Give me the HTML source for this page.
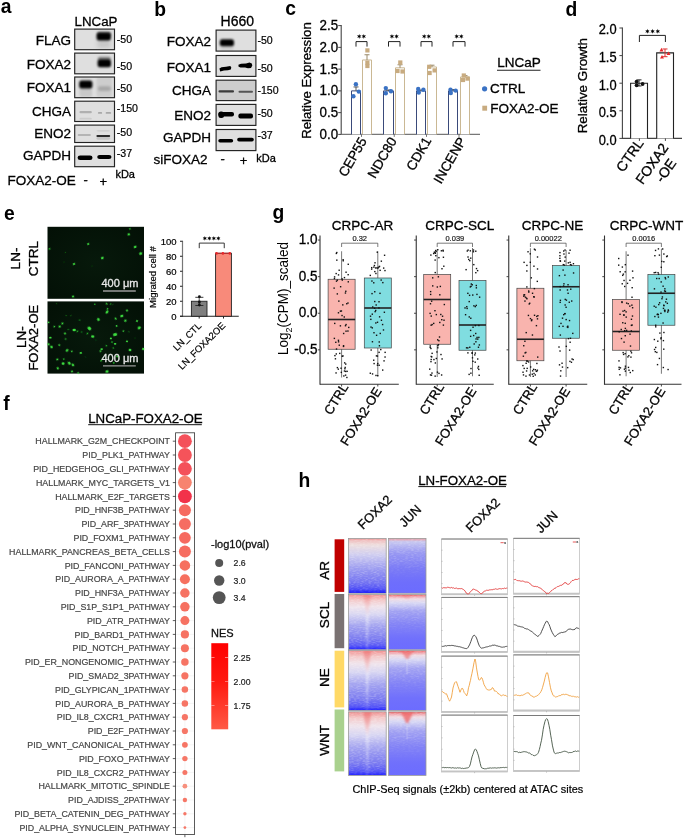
<!DOCTYPE html>
<html><head><meta charset="utf-8"><style>
html,body{margin:0;padding:0;background:#fff;}
body{width:685px;height:840px;overflow:hidden;}
svg{display:block;font-family:"Liberation Sans", sans-serif;will-change:transform;}
</style></head><body>
<svg width="685" height="840" viewBox="0 0 685 840">
<defs>
<filter id="bl1" x="-50%" y="-50%" width="200%" height="200%"><feGaussianBlur stdDeviation="1.1"/></filter>
<filter id="bl2" x="-50%" y="-50%" width="200%" height="200%"><feGaussianBlur stdDeviation="2"/></filter>
<filter id="bl05" x="-50%" y="-50%" width="200%" height="200%"><feGaussianBlur stdDeviation="0.6"/></filter>
<filter id="bl3" x="-50%" y="-50%" width="200%" height="200%"><feGaussianBlur stdDeviation="3"/></filter>
<filter id="grain" x="0" y="0" width="100%" height="100%"><feTurbulence type="fractalNoise" baseFrequency="0.9" numOctaves="2" seed="3" result="n"/><feColorMatrix type="matrix" values="0 0 0 0 0.6  0 0 0 0 0.6  0 0 0 0 0.6  0 0 0 -1.2 0.9"/></filter>
<filter id="speck" x="0" y="0" width="100%" height="100%"><feTurbulence type="fractalNoise" baseFrequency="0.35 1.2" numOctaves="1" seed="4"/><feColorMatrix type="matrix" values="0 0 0 0 1  0 0 0 0 1  0 0 0 0 1  1.8 0 0 0 -0.75"/></filter>
<linearGradient id="fgF" x1="0" y1="0" x2="0" y2="1"><stop offset="0" stop-color="#fff"/><stop offset="0.85" stop-color="#fff"/><stop offset="1" stop-color="#fff" stop-opacity="0.3"/></linearGradient>
<linearGradient id="fgJ" x1="0" y1="0" x2="0" y2="1"><stop offset="0" stop-color="#fff"/><stop offset="0.4" stop-color="#fff" stop-opacity="0.7"/><stop offset="0.75" stop-color="#fff" stop-opacity="0"/></linearGradient>
<mask id="fadeF" maskContentUnits="objectBoundingBox"><rect width="1" height="1" fill="url(#fgF)"/></mask>
<mask id="fadeJ" maskContentUnits="objectBoundingBox"><rect width="1" height="1" fill="url(#fgJ)"/></mask>
<clipPath id="ca0"><rect x="74.7" y="29.1" width="39.8" height="20.6"/></clipPath>
<clipPath id="ca1"><rect x="74.7" y="53.1" width="39.8" height="20.699999999999996"/></clipPath>
<clipPath id="ca2"><rect x="74.7" y="77.0" width="39.8" height="20.700000000000003"/></clipPath>
<clipPath id="ca3"><rect x="74.7" y="101.2" width="39.8" height="20.299999999999997"/></clipPath>
<clipPath id="ca4"><rect x="74.7" y="125.1" width="39.8" height="17.400000000000006"/></clipPath>
<clipPath id="ca5"><rect x="74.7" y="146.2" width="39.8" height="20.5"/></clipPath>
<clipPath id="cb0"><rect x="216.1" y="30.1" width="39.80000000000001" height="21.0"/></clipPath>
<clipPath id="cb1"><rect x="216.1" y="55.5" width="39.80000000000001" height="20.900000000000006"/></clipPath>
<clipPath id="cb2"><rect x="216.1" y="80.2" width="39.80000000000001" height="20.39999999999999"/></clipPath>
<clipPath id="cb3"><rect x="216.1" y="104.4" width="39.80000000000001" height="21.0"/></clipPath>
<clipPath id="cb4"><rect x="216.1" y="129.5" width="39.80000000000001" height="21.099999999999994"/></clipPath>
<radialGradient id="mbgg" cx="0.5" cy="0.5" r="0.7"><stop offset="0" stop-color="#07190b"/><stop offset="1" stop-color="#031006"/></radialGradient>
<linearGradient id="nesg" x1="0" y1="0" x2="0" y2="1"><stop offset="0" stop-color="#ff0000"/><stop offset="0.45" stop-color="#ff1a10"/><stop offset="1" stop-color="#ff5a45"/></linearGradient>
<clipPath id="hc00"><rect x="348.4" y="538.4" width="37.80" height="54.90"/></clipPath>
<linearGradient id="hm00" x1="0" y1="0" x2="0" y2="1"><stop offset="0" stop-color="#ee7a7a"/><stop offset="0.03" stop-color="#f0bcbc"/><stop offset="0.12" stop-color="#eedede"/><stop offset="0.3" stop-color="#cfcdf0"/><stop offset="0.55" stop-color="#9c9cf0"/><stop offset="0.8" stop-color="#7474f2"/><stop offset="0.93" stop-color="#4c4cf6"/><stop offset="1" stop-color="#1010ff"/></linearGradient>
<clipPath id="hc01"><rect x="388.4" y="538.4" width="37.60" height="54.90"/></clipPath>
<linearGradient id="hm01" x1="0" y1="0" x2="0" y2="1"><stop offset="0" stop-color="#e04848"/><stop offset="0.02" stop-color="#e0a8b8"/><stop offset="0.06" stop-color="#c8c8f0"/><stop offset="0.25" stop-color="#9a9af2"/><stop offset="0.55" stop-color="#7a7af6"/><stop offset="0.8" stop-color="#6e6efc"/><stop offset="1" stop-color="#6c6cff"/></linearGradient>
<clipPath id="hc10"><rect x="348.4" y="594.6" width="37.80" height="55.20"/></clipPath>
<linearGradient id="hm10" x1="0" y1="0" x2="0" y2="1"><stop offset="0" stop-color="#f09090"/><stop offset="0.1" stop-color="#f4caca"/><stop offset="0.22" stop-color="#f0e4ec"/><stop offset="0.36" stop-color="#d8d6f2"/><stop offset="0.55" stop-color="#a6a6f0"/><stop offset="0.8" stop-color="#7c7cf0"/><stop offset="0.93" stop-color="#5858f6"/><stop offset="1" stop-color="#2020ff"/></linearGradient>
<linearGradient id="hs10" x1="0" y1="0" x2="0" y2="1"><stop offset="0" stop-color="#ee7070" stop-opacity="0.55"/><stop offset="0.22" stop-color="#f2a8a8" stop-opacity="0.3"/><stop offset="0.4" stop-color="#ffffff" stop-opacity="0.45"/><stop offset="1" stop-color="#ffffff" stop-opacity="0.15"/></linearGradient>
<clipPath id="hc11"><rect x="388.4" y="594.6" width="37.60" height="55.20"/></clipPath>
<linearGradient id="hm11" x1="0" y1="0" x2="0" y2="1"><stop offset="0" stop-color="#ee5a5a"/><stop offset="0.035" stop-color="#f0a4ac"/><stop offset="0.08" stop-color="#f0dce4"/><stop offset="0.15" stop-color="#d8d8f4"/><stop offset="0.3" stop-color="#a2a2f2"/><stop offset="0.55" stop-color="#8282f6"/><stop offset="0.8" stop-color="#7070fc"/><stop offset="1" stop-color="#6c6cff"/></linearGradient>
<clipPath id="hc20"><rect x="348.4" y="650.6" width="37.80" height="59.90"/></clipPath>
<linearGradient id="hm20" x1="0" y1="0" x2="0" y2="1"><stop offset="0" stop-color="#f09090"/><stop offset="0.1" stop-color="#f4caca"/><stop offset="0.22" stop-color="#f0e4ec"/><stop offset="0.36" stop-color="#d8d6f2"/><stop offset="0.55" stop-color="#a6a6f0"/><stop offset="0.8" stop-color="#7c7cf0"/><stop offset="0.93" stop-color="#5858f6"/><stop offset="1" stop-color="#2020ff"/></linearGradient>
<linearGradient id="hs20" x1="0" y1="0" x2="0" y2="1"><stop offset="0" stop-color="#ee7070" stop-opacity="0.75"/><stop offset="0.22" stop-color="#f2a8a8" stop-opacity="0.5"/><stop offset="0.4" stop-color="#ffffff" stop-opacity="0.45"/><stop offset="1" stop-color="#ffffff" stop-opacity="0.15"/></linearGradient>
<clipPath id="hc21"><rect x="388.4" y="650.6" width="37.60" height="59.90"/></clipPath>
<linearGradient id="hm21" x1="0" y1="0" x2="0" y2="1"><stop offset="0" stop-color="#ee5a5a"/><stop offset="0.035" stop-color="#f0a4ac"/><stop offset="0.08" stop-color="#f0dce4"/><stop offset="0.15" stop-color="#d8d8f4"/><stop offset="0.3" stop-color="#a2a2f2"/><stop offset="0.55" stop-color="#8282f6"/><stop offset="0.8" stop-color="#7070fc"/><stop offset="1" stop-color="#6c6cff"/></linearGradient>
<clipPath id="hc30"><rect x="348.4" y="711.8" width="37.80" height="63.70"/></clipPath>
<linearGradient id="hm30" x1="0" y1="0" x2="0" y2="1"><stop offset="0" stop-color="#f09090"/><stop offset="0.1" stop-color="#f4caca"/><stop offset="0.22" stop-color="#f0e4ec"/><stop offset="0.36" stop-color="#d8d6f2"/><stop offset="0.55" stop-color="#a6a6f0"/><stop offset="0.8" stop-color="#7c7cf0"/><stop offset="0.93" stop-color="#5858f6"/><stop offset="1" stop-color="#2020ff"/></linearGradient>
<linearGradient id="hs30" x1="0" y1="0" x2="0" y2="1"><stop offset="0" stop-color="#ee7070" stop-opacity="0.85"/><stop offset="0.22" stop-color="#f2a8a8" stop-opacity="0.6"/><stop offset="0.4" stop-color="#ffffff" stop-opacity="0.45"/><stop offset="1" stop-color="#ffffff" stop-opacity="0.15"/></linearGradient>
<clipPath id="hc31"><rect x="388.4" y="711.8" width="37.60" height="63.70"/></clipPath>
<linearGradient id="hm31" x1="0" y1="0" x2="0" y2="1"><stop offset="0" stop-color="#ee5a5a"/><stop offset="0.035" stop-color="#f0a4ac"/><stop offset="0.08" stop-color="#f0dce4"/><stop offset="0.15" stop-color="#d8d8f4"/><stop offset="0.3" stop-color="#a2a2f2"/><stop offset="0.55" stop-color="#8282f6"/><stop offset="0.8" stop-color="#7070fc"/><stop offset="1" stop-color="#6c6cff"/></linearGradient>
</defs>
<text x="0.80" y="12.60" font-size="19.3" text-anchor="start" font-weight="bold" fill="#000" stroke="#000" stroke-width="0" >a</text>
<text x="74.60" y="26.20" font-size="13.3" text-anchor="start" font-weight="normal" fill="#000" stroke="#000" stroke-width="0.3" >LNCaP</text>
<text x="71.00" y="44.60" font-size="13.5" text-anchor="end" font-weight="normal" fill="#000" stroke="#000" stroke-width="0.3" >FLAG</text>
<g clip-path="url(#ca0)">
<rect x="74.70" y="29.10" width="39.80" height="20.60" fill="#dfdfdf" stroke="none" stroke-width="1" />
<rect x="97" y="40" width="13.599999999999994" height="8" rx="2" fill="#c6c6c6" filter="url(#bl2)"/>
<rect x="97" y="31.8" width="13.799999999999997" height="4.199999999999999" rx="2" fill="#555" filter="url(#bl1)"/>
<rect x="96.6" y="33.0" width="14.300000000000011" height="7.399999999999999" rx="2.5" fill="#000" filter="url(#bl1)"/>
</g>
<rect x="74.70" y="29.10" width="39.80" height="20.60" fill="none" stroke="#222" stroke-width="1.15" />
<text x="116.80" y="43.40" font-size="10.6" text-anchor="start" font-weight="normal" fill="#000" stroke="#000" stroke-width="0.2" >-50</text>
<text x="71.00" y="68.60" font-size="13.5" text-anchor="end" font-weight="normal" fill="#000" stroke="#000" stroke-width="0.3" >FOXA2</text>
<g clip-path="url(#ca1)">
<rect x="74.70" y="53.10" width="39.80" height="20.70" fill="#dfdfdf" stroke="none" stroke-width="1" />
<rect x="97.8" y="56.8" width="13.0" height="3.700000000000003" rx="2" fill="#888" filter="url(#bl1)"/>
<rect x="97.6" y="59.2" width="13.400000000000006" height="8.099999999999994" rx="2.5" fill="#000" filter="url(#bl1)"/>
</g>
<rect x="74.70" y="53.10" width="39.80" height="20.70" fill="none" stroke="#222" stroke-width="1.15" />
<text x="116.80" y="70.00" font-size="10.6" text-anchor="start" font-weight="normal" fill="#000" stroke="#000" stroke-width="0.2" >-50</text>
<text x="71.00" y="92.20" font-size="13.5" text-anchor="end" font-weight="normal" fill="#000" stroke="#000" stroke-width="0.3" >FOXA1</text>
<g clip-path="url(#ca2)">
<rect x="74.70" y="77.00" width="39.80" height="20.70" fill="#dfdfdf" stroke="none" stroke-width="1" />
<rect x="79.5" y="88" width="12.700000000000003" height="9" rx="2" fill="#c8c8c8" filter="url(#bl1)"/>
<rect x="96.5" y="77" width="15.5" height="20" rx="2" fill="#cdcdcd" filter="url(#bl1)"/>
<rect x="79.2" y="80.6" width="13.200000000000003" height="8.0" rx="2.5" fill="#000" filter="url(#bl1)"/>
<rect x="98" y="86.2" width="12.799999999999997" height="4.799999999999997" rx="2" fill="#a8a8a8" filter="url(#bl1)"/>
</g>
<rect x="74.70" y="77.00" width="39.80" height="20.70" fill="none" stroke="#222" stroke-width="1.15" />
<text x="116.80" y="92.40" font-size="10.6" text-anchor="start" font-weight="normal" fill="#000" stroke="#000" stroke-width="0.2" >-50</text>
<text x="71.00" y="116.20" font-size="13.5" text-anchor="end" font-weight="normal" fill="#000" stroke="#000" stroke-width="0.3" >CHGA</text>
<g clip-path="url(#ca3)">
<rect x="74.70" y="101.20" width="39.80" height="20.30" fill="#dfdfdf" stroke="none" stroke-width="1" />
<rect x="79.5" y="111.1" width="12.299999999999997" height="2.1000000000000085" rx="1" fill="#b0b0b0" filter="url(#bl05)"/>
<rect x="97.9" y="112" width="4.299999999999997" height="1.7999999999999972" rx="1" fill="#a8a8a8" filter="url(#bl05)"/>
<rect x="105.6" y="112" width="5.5" height="1.7999999999999972" rx="1" fill="#a8a8a8" filter="url(#bl05)"/>
<rect x="79.5" y="117.8" width="12.299999999999997" height="1.7999999999999972" rx="1" fill="#cccccc" filter="url(#bl05)"/>
</g>
<rect x="74.70" y="101.20" width="39.80" height="20.30" fill="none" stroke="#222" stroke-width="1.15" />
<text x="116.80" y="112.30" font-size="10.6" text-anchor="start" font-weight="normal" fill="#000" stroke="#000" stroke-width="0.2" >-150</text>
<text x="71.00" y="138.20" font-size="13.5" text-anchor="end" font-weight="normal" fill="#000" stroke="#000" stroke-width="0.3" >ENO2</text>
<g clip-path="url(#ca4)">
<rect x="74.70" y="125.10" width="39.80" height="17.40" fill="#dfdfdf" stroke="none" stroke-width="1" />
<rect x="77.7" y="134" width="13.200000000000003" height="1.9000000000000057" rx="1" fill="#b4b4b4" filter="url(#bl05)"/>
<rect x="96.4" y="137" width="13.799999999999997" height="2.8000000000000114" rx="2" fill="#c4c4c4" filter="url(#bl05)"/>
<rect x="96.4" y="134.9" width="13.799999999999997" height="2.0999999999999943" rx="1" fill="#2a2a2a" filter="url(#bl05)"/>
<rect x="96.4" y="130.3" width="13.799999999999997" height="1.0999999999999943" rx="2" fill="#cacaca" filter="url(#bl05)"/>
</g>
<rect x="74.70" y="125.10" width="39.80" height="17.40" fill="none" stroke="#222" stroke-width="1.15" />
<text x="116.80" y="136.00" font-size="10.6" text-anchor="start" font-weight="normal" fill="#000" stroke="#000" stroke-width="0.2" >-50</text>
<text x="71.00" y="160.20" font-size="13.5" text-anchor="end" font-weight="normal" fill="#000" stroke="#000" stroke-width="0.3" >GAPDH</text>
<g clip-path="url(#ca5)">
<rect x="74.70" y="146.20" width="39.80" height="20.50" fill="#dfdfdf" stroke="none" stroke-width="1" />
<rect x="77.6" y="155.6" width="14.900000000000006" height="4.5" rx="2.5" fill="#000" filter="url(#bl05)"/>
<rect x="97.2" y="155.0" width="14.299999999999997" height="3.9000000000000057" rx="2.5" fill="#000" filter="url(#bl05)"/>
</g>
<rect x="74.70" y="146.20" width="39.80" height="20.50" fill="none" stroke="#222" stroke-width="1.15" />
<text x="116.80" y="156.80" font-size="10.6" text-anchor="start" font-weight="normal" fill="#000" stroke="#000" stroke-width="0.2" >-37</text>
<text x="7.40" y="185.40" font-size="13.5" text-anchor="start" font-weight="normal" fill="#000" stroke="#000" stroke-width="0.3" >FOXA2-OE</text>
<text x="85.70" y="184.00" font-size="13" text-anchor="middle" font-weight="normal" fill="#000" stroke="#000" stroke-width="0.3" >-</text>
<text x="103.20" y="185.60" font-size="13" text-anchor="middle" font-weight="normal" fill="#000" stroke="#000" stroke-width="0.3" >+</text>
<text x="115.40" y="178.00" font-size="11" text-anchor="start" font-weight="normal" fill="#000" stroke="#000" stroke-width="0.3" >kDa</text>
<text x="154.20" y="15.60" font-size="19.3" text-anchor="start" font-weight="bold" fill="#000" stroke="#000" stroke-width="0" >b</text>
<text x="220.60" y="26.20" font-size="14" text-anchor="start" font-weight="normal" fill="#000" stroke="#000" stroke-width="0.3" >H660</text>
<text x="211.00" y="46.10" font-size="13.5" text-anchor="end" font-weight="normal" fill="#000" stroke="#000" stroke-width="0.3" >FOXA2</text>
<g clip-path="url(#cb0)">
<rect x="216.10" y="30.10" width="39.80" height="21.00" fill="#dfdfdf" stroke="none" stroke-width="1" />
<rect x="220.5" y="46" width="13.0" height="4.5" rx="2" fill="#cfcfcf" filter="url(#bl1)"/>
<rect x="219.8" y="39.2" width="14.199999999999989" height="7.0" rx="2.5" fill="#000" filter="url(#bl1)"/>
</g>
<rect x="216.10" y="30.10" width="39.80" height="21.00" fill="none" stroke="#222" stroke-width="1.15" />
<text x="257.40" y="43.90" font-size="10.6" text-anchor="start" font-weight="normal" fill="#000" stroke="#000" stroke-width="0.2" >-50</text>
<text x="211.00" y="71.70" font-size="13.5" text-anchor="end" font-weight="normal" fill="#000" stroke="#000" stroke-width="0.3" >FOXA1</text>
<g clip-path="url(#cb1)">
<rect x="216.10" y="55.50" width="39.80" height="20.90" fill="#dfdfdf" stroke="none" stroke-width="1" />
<polygon points="219.4,68.6 221.5,67.2 226,66.7 230.3,66.1 231.3,67.5 230.8,69.6 228,70.3 224,70.6 220.2,71.4" fill="#000" filter="url(#bl05)"/>
<polygon points="238.4,64.8 241,63.7 246,63.4 249.5,62.4 251.8,63.4 252.3,65.6 251,67.9 248,68.2 245,67.4 240.5,67.6 238.6,66.8" fill="#000" filter="url(#bl05)"/>
</g>
<rect x="216.10" y="55.50" width="39.80" height="20.90" fill="none" stroke="#222" stroke-width="1.15" />
<text x="257.40" y="71.50" font-size="10.6" text-anchor="start" font-weight="normal" fill="#000" stroke="#000" stroke-width="0.2" >-50</text>
<text x="211.00" y="95.30" font-size="13.5" text-anchor="end" font-weight="normal" fill="#000" stroke="#000" stroke-width="0.3" >CHGA</text>
<g clip-path="url(#cb2)">
<rect x="216.10" y="80.20" width="39.80" height="20.40" fill="#cdcdcd" stroke="none" stroke-width="1" />
<rect x="218.5" y="90.2" width="15.5" height="2.3999999999999915" rx="1" fill="#3a3a3a" filter="url(#bl05)"/>
<rect x="238.5" y="90.8" width="14.5" height="2.0" rx="1" fill="#555" filter="url(#bl05)"/>
</g>
<rect x="216.10" y="80.20" width="39.80" height="20.40" fill="none" stroke="#222" stroke-width="1.15" />
<text x="257.40" y="93.50" font-size="10.6" text-anchor="start" font-weight="normal" fill="#000" stroke="#000" stroke-width="0.2" >-150</text>
<text x="211.00" y="119.70" font-size="13.5" text-anchor="end" font-weight="normal" fill="#000" stroke="#000" stroke-width="0.3" >ENO2</text>
<g clip-path="url(#cb3)">
<rect x="216.10" y="104.40" width="39.80" height="21.00" fill="#dfdfdf" stroke="none" stroke-width="1" />
<rect x="218.4" y="112" width="15.599999999999994" height="4.599999999999994" rx="2" fill="#000" filter="url(#bl05)"/>
<rect x="218.4" y="111.6" width="5.599999999999994" height="6.400000000000006" rx="2.5" fill="#000" filter="url(#bl05)"/>
<rect x="238.4" y="113.6" width="14.599999999999994" height="4.800000000000011" rx="2" fill="#000" filter="url(#bl05)"/>
</g>
<rect x="216.10" y="104.40" width="39.80" height="21.00" fill="none" stroke="#222" stroke-width="1.15" />
<text x="257.40" y="116.90" font-size="10.6" text-anchor="start" font-weight="normal" fill="#000" stroke="#000" stroke-width="0.2" >-50</text>
<text x="211.00" y="141.70" font-size="13.5" text-anchor="end" font-weight="normal" fill="#000" stroke="#000" stroke-width="0.3" >GAPDH</text>
<g clip-path="url(#cb4)">
<rect x="216.10" y="129.50" width="39.80" height="21.10" fill="#dfdfdf" stroke="none" stroke-width="1" />
<rect x="218.3" y="139" width="14.899999999999977" height="3.5999999999999943" rx="1.8" fill="#000" filter="url(#bl05)"/>
<rect x="237.2" y="137.8" width="16.600000000000023" height="3.799999999999983" rx="1.8" fill="#000" filter="url(#bl05)"/>
</g>
<rect x="216.10" y="129.50" width="39.80" height="21.10" fill="none" stroke="#222" stroke-width="1.15" />
<text x="257.40" y="139.40" font-size="10.6" text-anchor="start" font-weight="normal" fill="#000" stroke="#000" stroke-width="0.2" >-37</text>
<text x="153.40" y="164.20" font-size="13.5" text-anchor="start" font-weight="normal" fill="#000" stroke="#000" stroke-width="0.3" >siFOXA2</text>
<text x="222.70" y="163.00" font-size="13" text-anchor="middle" font-weight="normal" fill="#000" stroke="#000" stroke-width="0.3" >-</text>
<text x="243.60" y="165.20" font-size="13" text-anchor="middle" font-weight="normal" fill="#000" stroke="#000" stroke-width="0.3" >+</text>
<text x="256.30" y="161.90" font-size="11" text-anchor="start" font-weight="normal" fill="#000" stroke="#000" stroke-width="0.3" >kDa</text>
<text x="285.20" y="15.20" font-size="19.3" text-anchor="start" font-weight="bold" fill="#000" stroke="#000" stroke-width="0" >c</text>
<line x1="341.20" y1="25.10" x2="341.20" y2="134.90" stroke="#444" stroke-width="1.1" />
<line x1="341.20" y1="134.40" x2="480.00" y2="134.40" stroke="#777" stroke-width="1.3" />
<line x1="338.20" y1="134.40" x2="341.20" y2="134.40" stroke="#444" stroke-width="1" />
<text x="338.20" y="138.90" font-size="14" text-anchor="end" font-weight="normal" fill="#000" stroke="#000" stroke-width="0.3" textLength="18.6" lengthAdjust="spacingAndGlyphs">0.0</text>
<line x1="338.20" y1="112.64" x2="341.20" y2="112.64" stroke="#444" stroke-width="1" />
<text x="338.20" y="117.14" font-size="14" text-anchor="end" font-weight="normal" fill="#000" stroke="#000" stroke-width="0.3" textLength="18.6" lengthAdjust="spacingAndGlyphs">0.5</text>
<line x1="338.20" y1="90.88" x2="341.20" y2="90.88" stroke="#444" stroke-width="1" />
<text x="338.20" y="95.38" font-size="14" text-anchor="end" font-weight="normal" fill="#000" stroke="#000" stroke-width="0.3" textLength="18.6" lengthAdjust="spacingAndGlyphs">1.0</text>
<line x1="338.20" y1="69.12" x2="341.20" y2="69.12" stroke="#444" stroke-width="1" />
<text x="338.20" y="73.62" font-size="14" text-anchor="end" font-weight="normal" fill="#000" stroke="#000" stroke-width="0.3" textLength="18.6" lengthAdjust="spacingAndGlyphs">1.5</text>
<line x1="338.20" y1="47.36" x2="341.20" y2="47.36" stroke="#444" stroke-width="1" />
<text x="338.20" y="51.86" font-size="14" text-anchor="end" font-weight="normal" fill="#000" stroke="#000" stroke-width="0.3" textLength="18.6" lengthAdjust="spacingAndGlyphs">2.0</text>
<line x1="338.20" y1="25.60" x2="341.20" y2="25.60" stroke="#444" stroke-width="1" />
<text x="338.20" y="30.10" font-size="14" text-anchor="end" font-weight="normal" fill="#000" stroke="#000" stroke-width="0.3" textLength="18.6" lengthAdjust="spacingAndGlyphs">2.5</text>
<text transform="translate(310.80,80.50) rotate(-90)" font-size="13.2" text-anchor="middle" fill="#000" stroke="#000" stroke-width="0.3" >Relative Expression</text>
<path d="M351.50,134.4 V90.88 H360.50 V134.4" fill="#fff" stroke="#3a4a7a" stroke-width="1"/>
<path d="M362.50,134.4 V59.98 H371.50 V134.4" fill="#fff" stroke="#cab894" stroke-width="1"/>
<line x1="356.00" y1="90.88" x2="356.00" y2="86.96" stroke="#555" stroke-width="1" />
<line x1="353.50" y1="86.96" x2="358.50" y2="86.96" stroke="#555" stroke-width="1" />
<line x1="367.00" y1="59.98" x2="367.00" y2="54.76" stroke="#9a8a6a" stroke-width="1" />
<line x1="364.50" y1="54.76" x2="369.50" y2="54.76" stroke="#9a8a6a" stroke-width="1" />
<circle cx="355.90" cy="84.30" r="2.20" fill="#3a72c4" />
<circle cx="358.80" cy="91.60" r="2.20" fill="#3a72c4" />
<circle cx="353.40" cy="96.20" r="2.20" fill="#3a72c4" />
<rect x="365.30" y="48.30" width="4.20" height="4.20" fill="#c8ab80" stroke="none" stroke-width="1" />
<rect x="365.30" y="60.50" width="4.20" height="4.20" fill="#c8ab80" stroke="none" stroke-width="1" />
<rect x="365.30" y="63.90" width="4.20" height="4.20" fill="#c8ab80" stroke="none" stroke-width="1" />
<path d="M356.00,46.6 V41.6 H367.00 V46.6" fill="none" stroke="#222" stroke-width="1"/>
<polygon points="359.20,33.90 359.72,35.49 361.37,35.15 360.25,36.40 361.37,37.65 359.72,37.31 359.20,38.90 358.68,37.31 357.03,37.65 358.15,36.40 357.03,35.15 358.68,35.49" fill="#000"/>
<polygon points="363.80,33.90 364.32,35.49 365.97,35.15 364.85,36.40 365.97,37.65 364.32,37.31 363.80,38.90 363.28,37.31 361.63,37.65 362.75,36.40 361.63,35.15 363.28,35.49" fill="#000"/>
<line x1="361.50" y1="134.40" x2="361.50" y2="136.90" stroke="#777" stroke-width="1" />
<path d="M383.50,134.4 V90.88 H393.50 V134.4" fill="#fff" stroke="#3a4a7a" stroke-width="1"/>
<path d="M395.50,134.4 V67.81 H404.50 V134.4" fill="#fff" stroke="#cab894" stroke-width="1"/>
<line x1="388.50" y1="90.88" x2="388.50" y2="90.01" stroke="#555" stroke-width="1" />
<line x1="386.00" y1="90.01" x2="391.00" y2="90.01" stroke="#555" stroke-width="1" />
<line x1="400.00" y1="67.81" x2="400.00" y2="64.77" stroke="#9a8a6a" stroke-width="1" />
<line x1="397.50" y1="64.77" x2="402.50" y2="64.77" stroke="#9a8a6a" stroke-width="1" />
<circle cx="385.80" cy="88.10" r="2.20" fill="#3a72c4" />
<circle cx="385.80" cy="93.20" r="2.20" fill="#3a72c4" />
<circle cx="391.00" cy="91.20" r="2.20" fill="#3a72c4" />
<rect x="398.20" y="60.40" width="4.20" height="4.20" fill="#c8ab80" stroke="none" stroke-width="1" />
<rect x="395.40" y="68.90" width="4.20" height="4.20" fill="#c8ab80" stroke="none" stroke-width="1" />
<rect x="400.40" y="69.40" width="4.20" height="4.20" fill="#c8ab80" stroke="none" stroke-width="1" />
<path d="M388.50,46.6 V41.6 H400.00 V46.6" fill="none" stroke="#222" stroke-width="1"/>
<polygon points="391.95,33.90 392.47,35.49 394.12,35.15 393.00,36.40 394.12,37.65 392.47,37.31 391.95,38.90 391.43,37.31 389.78,37.65 390.90,36.40 389.78,35.15 391.43,35.49" fill="#000"/>
<polygon points="396.55,33.90 397.07,35.49 398.72,35.15 397.60,36.40 398.72,37.65 397.07,37.31 396.55,38.90 396.03,37.31 394.38,37.65 395.50,36.40 394.38,35.15 396.03,35.49" fill="#000"/>
<line x1="394.25" y1="134.40" x2="394.25" y2="136.90" stroke="#777" stroke-width="1" />
<path d="M416.50,134.4 V90.88 H425.50 V134.4" fill="#fff" stroke="#3a4a7a" stroke-width="1"/>
<path d="M427.50,134.4 V66.94 H436.50 V134.4" fill="#fff" stroke="#cab894" stroke-width="1"/>
<line x1="421.00" y1="90.88" x2="421.00" y2="90.01" stroke="#555" stroke-width="1" />
<line x1="418.50" y1="90.01" x2="423.50" y2="90.01" stroke="#555" stroke-width="1" />
<line x1="432.00" y1="66.94" x2="432.00" y2="65.20" stroke="#9a8a6a" stroke-width="1" />
<line x1="429.50" y1="65.20" x2="434.50" y2="65.20" stroke="#9a8a6a" stroke-width="1" />
<circle cx="418.20" cy="89.00" r="2.20" fill="#3a72c4" />
<circle cx="418.80" cy="92.50" r="2.20" fill="#3a72c4" />
<circle cx="423.40" cy="89.70" r="2.20" fill="#3a72c4" />
<rect x="427.10" y="64.70" width="4.20" height="4.20" fill="#c8ab80" stroke="none" stroke-width="1" />
<rect x="427.50" y="70.90" width="4.20" height="4.20" fill="#c8ab80" stroke="none" stroke-width="1" />
<rect x="432.50" y="68.30" width="4.20" height="4.20" fill="#c8ab80" stroke="none" stroke-width="1" />
<path d="M421.00,46.6 V41.6 H432.00 V46.6" fill="none" stroke="#222" stroke-width="1"/>
<polygon points="424.20,33.90 424.72,35.49 426.37,35.15 425.25,36.40 426.37,37.65 424.72,37.31 424.20,38.90 423.68,37.31 422.03,37.65 423.15,36.40 422.03,35.15 423.68,35.49" fill="#000"/>
<polygon points="428.80,33.90 429.32,35.49 430.97,35.15 429.85,36.40 430.97,37.65 429.32,37.31 428.80,38.90 428.28,37.31 426.63,37.65 427.75,36.40 426.63,35.15 428.28,35.49" fill="#000"/>
<line x1="426.50" y1="134.40" x2="426.50" y2="136.90" stroke="#777" stroke-width="1" />
<path d="M448.50,134.4 V90.88 H457.50 V134.4" fill="#fff" stroke="#3a4a7a" stroke-width="1"/>
<path d="M460.50,134.4 V76.95 H469.50 V134.4" fill="#fff" stroke="#cab894" stroke-width="1"/>
<line x1="453.00" y1="90.88" x2="453.00" y2="89.57" stroke="#555" stroke-width="1" />
<line x1="450.50" y1="89.57" x2="455.50" y2="89.57" stroke="#555" stroke-width="1" />
<line x1="465.00" y1="76.95" x2="465.00" y2="75.65" stroke="#9a8a6a" stroke-width="1" />
<line x1="462.50" y1="75.65" x2="467.50" y2="75.65" stroke="#9a8a6a" stroke-width="1" />
<circle cx="450.50" cy="89.80" r="2.20" fill="#3a72c4" />
<circle cx="450.80" cy="93.00" r="2.20" fill="#3a72c4" />
<circle cx="455.70" cy="90.60" r="2.20" fill="#3a72c4" />
<rect x="461.70" y="73.40" width="4.20" height="4.20" fill="#c8ab80" stroke="none" stroke-width="1" />
<rect x="460.90" y="77.90" width="4.20" height="4.20" fill="#c8ab80" stroke="none" stroke-width="1" />
<rect x="465.40" y="76.50" width="4.20" height="4.20" fill="#c8ab80" stroke="none" stroke-width="1" />
<path d="M453.00,46.6 V41.6 H465.00 V46.6" fill="none" stroke="#222" stroke-width="1"/>
<polygon points="456.70,33.90 457.22,35.49 458.87,35.15 457.75,36.40 458.87,37.65 457.22,37.31 456.70,38.90 456.18,37.31 454.53,37.65 455.65,36.40 454.53,35.15 456.18,35.49" fill="#000"/>
<polygon points="461.30,33.90 461.82,35.49 463.47,35.15 462.35,36.40 463.47,37.65 461.82,37.31 461.30,38.90 460.78,37.31 459.13,37.65 460.25,36.40 459.13,35.15 460.78,35.49" fill="#000"/>
<line x1="459.00" y1="134.40" x2="459.00" y2="136.90" stroke="#777" stroke-width="1" />
<text transform="translate(367.30,140.80) rotate(-60)" font-size="13.5" text-anchor="end" fill="#000" stroke="#000" stroke-width="0.3" >CEP55</text>
<text transform="translate(397.20,140.80) rotate(-60)" font-size="13.5" text-anchor="end" fill="#000" stroke="#000" stroke-width="0.3" >NDC80</text>
<text transform="translate(431.70,140.60) rotate(-60)" font-size="13.5" text-anchor="end" fill="#000" stroke="#000" stroke-width="0.3" >CDK1</text>
<text transform="translate(466.50,140.60) rotate(-60)" font-size="13.5" text-anchor="end" fill="#000" stroke="#000" stroke-width="0.3" >INCENP</text>
<text x="497.20" y="67.00" font-size="13.5" text-anchor="start" font-weight="normal" fill="#000" stroke="#000" stroke-width="0.3" >LNCaP</text>
<line x1="497.00" y1="70.30" x2="540.50" y2="70.30" stroke="#222" stroke-width="1.1" />
<circle cx="484.60" cy="88.80" r="2.60" fill="#3a72c4" />
<text x="490.00" y="93.20" font-size="13.5" text-anchor="start" font-weight="normal" fill="#000" stroke="#000" stroke-width="0.3" >CTRL</text>
<rect x="482.30" y="105.70" width="4.80" height="5.00" fill="#c8ab80" stroke="none" stroke-width="1" />
<text x="490.20" y="113.00" font-size="13.5" text-anchor="start" font-weight="normal" fill="#000" stroke="#000" stroke-width="0.3" >FOXA2-OE</text>
<text x="565.60" y="16.20" font-size="19.3" text-anchor="start" font-weight="bold" fill="#000" stroke="#000" stroke-width="0" >d</text>
<line x1="622.40" y1="27.50" x2="622.40" y2="138.90" stroke="#444" stroke-width="1.1" />
<line x1="622.40" y1="138.40" x2="682.00" y2="138.40" stroke="#444" stroke-width="1.1" />
<line x1="619.40" y1="138.40" x2="622.40" y2="138.40" stroke="#444" stroke-width="1" />
<text x="616.60" y="144.80" font-size="14" text-anchor="end" font-weight="normal" fill="#000" stroke="#000" stroke-width="0.3" textLength="17.9" lengthAdjust="spacingAndGlyphs">0.0</text>
<line x1="619.40" y1="110.80" x2="622.40" y2="110.80" stroke="#444" stroke-width="1" />
<text x="616.60" y="117.20" font-size="14" text-anchor="end" font-weight="normal" fill="#000" stroke="#000" stroke-width="0.3" textLength="17.9" lengthAdjust="spacingAndGlyphs">0.5</text>
<line x1="619.40" y1="83.20" x2="622.40" y2="83.20" stroke="#444" stroke-width="1" />
<text x="616.60" y="89.60" font-size="14" text-anchor="end" font-weight="normal" fill="#000" stroke="#000" stroke-width="0.3" textLength="17.9" lengthAdjust="spacingAndGlyphs">1.0</text>
<line x1="619.40" y1="55.60" x2="622.40" y2="55.60" stroke="#444" stroke-width="1" />
<text x="616.60" y="62.00" font-size="14" text-anchor="end" font-weight="normal" fill="#000" stroke="#000" stroke-width="0.3" textLength="17.9" lengthAdjust="spacingAndGlyphs">1.5</text>
<line x1="619.40" y1="28.00" x2="622.40" y2="28.00" stroke="#444" stroke-width="1" />
<text x="616.60" y="34.40" font-size="14" text-anchor="end" font-weight="normal" fill="#000" stroke="#000" stroke-width="0.3" textLength="17.9" lengthAdjust="spacingAndGlyphs">2.0</text>
<text transform="translate(586.90,85.70) rotate(-90)" font-size="13.4" text-anchor="middle" fill="#000" stroke="#000" stroke-width="0.3" >Relative Growth</text>
<path d="M630.6,138.4 V83.20 H647.5 V138.4" fill="#fff" stroke="#222" stroke-width="1.1"/>
<path d="M656.7,138.4 V52.84 H673.5 V138.4" fill="#fff" stroke="#222" stroke-width="1.1"/>
<line x1="639.00" y1="83.20" x2="639.00" y2="79.89" stroke="#222" stroke-width="1" />
<line x1="636.50" y1="79.89" x2="641.50" y2="79.89" stroke="#222" stroke-width="1" />
<line x1="639.00" y1="83.20" x2="639.00" y2="85.96" stroke="#222" stroke-width="1" />
<line x1="636.50" y1="85.96" x2="641.50" y2="85.96" stroke="#222" stroke-width="1" />
<circle cx="636.60" cy="81.60" r="1.90" fill="#111" />
<circle cx="636.60" cy="85.30" r="1.90" fill="#111" />
<circle cx="642.60" cy="84.00" r="1.90" fill="#111" />
<line x1="665.00" y1="52.84" x2="665.00" y2="48.98" stroke="#e03030" stroke-width="1" />
<line x1="662.50" y1="48.98" x2="667.50" y2="48.98" stroke="#e03030" stroke-width="1" />
<line x1="665.00" y1="52.84" x2="665.00" y2="56.70" stroke="#e03030" stroke-width="1" />
<line x1="662.50" y1="56.70" x2="667.50" y2="56.70" stroke="#e03030" stroke-width="1" />
<path d="M661.5,47.8 L663.5,51.4 L659.5,51.4 Z" fill="#e8262a"/>
<path d="M668.5,51.4 L670.5,55.0 L666.5,55.0 Z" fill="#e8262a"/>
<path d="M662,55 L664,58.6 L660,58.6 Z" fill="#e8262a"/>
<path d="M639.4,42 V35.4 H665.4 V42" fill="none" stroke="#222" stroke-width="1"/>
<polygon points="647.40,28.80 647.92,30.39 649.57,30.05 648.45,31.30 649.57,32.55 647.92,32.21 647.40,33.80 646.88,32.21 645.23,32.55 646.35,31.30 645.23,30.05 646.88,30.39" fill="#000"/>
<polygon points="652.60,28.80 653.12,30.39 654.77,30.05 653.65,31.30 654.77,32.55 653.12,32.21 652.60,33.80 652.08,32.21 650.43,32.55 651.55,31.30 650.43,30.05 652.08,30.39" fill="#000"/>
<polygon points="657.80,28.80 658.32,30.39 659.97,30.05 658.85,31.30 659.97,32.55 658.32,32.21 657.80,33.80 657.27,32.21 655.63,32.55 656.75,31.30 655.63,30.05 657.27,30.39" fill="#000"/>
<line x1="639.40" y1="138.40" x2="639.40" y2="140.90" stroke="#444" stroke-width="1" />
<line x1="665.40" y1="138.40" x2="665.40" y2="140.90" stroke="#444" stroke-width="1" />
<text transform="translate(644.20,143.10) rotate(-55)" font-size="14" text-anchor="end" fill="#000" stroke="#000" stroke-width="0.3" >CTRL</text>
<text transform="translate(669.00,147.60) rotate(-55)" font-size="14" text-anchor="end" fill="#000" stroke="#000" stroke-width="0.3" >FOXA2</text>
<text transform="translate(676.90,163.00) rotate(-55)" font-size="14" text-anchor="end" fill="#000" stroke="#000" stroke-width="0.3" >-OE</text>
<text x="4.00" y="220.00" font-size="19.3" text-anchor="start" font-weight="bold" fill="#000" stroke="#000" stroke-width="0" >e</text>
<rect x="47.50" y="226.80" width="96.50" height="72.00" fill="url(#mbgg)" stroke="none" stroke-width="1" />
<rect x="47.50" y="301.40" width="96.50" height="72.20" fill="url(#mbgg)" stroke="none" stroke-width="1" />
<ellipse cx="129.90" cy="228.90" rx="0.96" ry="0.80" transform="rotate(-30 129.90 228.90)" fill="#22b428" filter="url(#bl05)"/>
<ellipse cx="128.80" cy="234.40" rx="1.32" ry="1.10" transform="rotate(-30 128.80 234.40)" fill="#3ee040" filter="url(#bl05)"/>
<ellipse cx="88.20" cy="244.00" rx="1.20" ry="1.00" transform="rotate(-30 88.20 244.00)" fill="#3ee040" filter="url(#bl05)"/>
<ellipse cx="49.50" cy="248.80" rx="1.08" ry="0.90" transform="rotate(-30 49.50 248.80)" fill="#22b428" filter="url(#bl05)"/>
<ellipse cx="135.10" cy="246.90" rx="1.44" ry="1.20" transform="rotate(-30 135.10 246.90)" fill="#3ee040" filter="url(#bl05)"/>
<ellipse cx="140.70" cy="253.60" rx="1.56" ry="1.30" transform="rotate(-30 140.70 253.60)" fill="#3ee040" filter="url(#bl05)"/>
<ellipse cx="102.30" cy="258.00" rx="1.44" ry="1.20" transform="rotate(-30 102.30 258.00)" fill="#3ee040" filter="url(#bl05)"/>
<ellipse cx="74.00" cy="264.00" rx="1.32" ry="1.10" transform="rotate(-30 74.00 264.00)" fill="#3ee040" filter="url(#bl05)"/>
<ellipse cx="65.40" cy="252.50" rx="0.72" ry="0.60" transform="rotate(-30 65.40 252.50)" fill="#0f5a14" filter="url(#bl05)"/>
<ellipse cx="73.00" cy="296.40" rx="1.20" ry="1.00" transform="rotate(-30 73.00 296.40)" fill="#3ee040" filter="url(#bl05)"/>
<ellipse cx="64.00" cy="262.00" rx="0.60" ry="0.50" transform="rotate(-30 64.00 262.00)" fill="#0f5a14" filter="url(#bl05)"/>
<ellipse cx="92.00" cy="266.00" rx="0.60" ry="0.50" transform="rotate(-30 92.00 266.00)" fill="#0f5a14" filter="url(#bl05)"/>
<ellipse cx="94.80" cy="304.30" rx="0.83" ry="0.79" transform="rotate(5.30750703551422 94.80 304.30)" fill="#22b428" filter="url(#bl05)"/>
<ellipse cx="48.60" cy="322.30" rx="0.99" ry="0.88" transform="rotate(12.470404631543332 48.60 322.30)" fill="#3ee040" filter="url(#bl05)"/>
<ellipse cx="62.40" cy="323.40" rx="1.12" ry="0.88" transform="rotate(-52.13653689122243 62.40 323.40)" fill="#3ee040" filter="url(#bl05)"/>
<ellipse cx="54.30" cy="326.60" rx="0.80" ry="0.88" transform="rotate(40.4962898515752 54.30 326.60)" fill="#3ee040" filter="url(#bl05)"/>
<ellipse cx="59.70" cy="326.60" rx="1.21" ry="1.14" transform="rotate(-31.880284674396435 59.70 326.60)" fill="#3ee040" filter="url(#bl05)"/>
<ellipse cx="68.30" cy="329.50" rx="1.19" ry="0.79" transform="rotate(-3.5683790973062486 68.30 329.50)" fill="#0f5a14" filter="url(#bl05)"/>
<ellipse cx="74.20" cy="330.10" rx="1.73" ry="1.23" transform="rotate(-2.837614956079804 74.20 330.10)" fill="#3ee040" filter="url(#bl05)"/>
<ellipse cx="77.40" cy="331.30" rx="1.02" ry="0.79" transform="rotate(-41.92602911717713 77.40 331.30)" fill="#22b428" filter="url(#bl05)"/>
<ellipse cx="89.40" cy="328.40" rx="2.03" ry="1.58" transform="rotate(44.165436857195616 89.40 328.40)" fill="#3ee040" filter="url(#bl05)"/>
<ellipse cx="81.60" cy="332.00" rx="1.07" ry="0.88" transform="rotate(28.95022274417883 81.60 332.00)" fill="#0f5a14" filter="url(#bl05)"/>
<ellipse cx="87.40" cy="333.50" rx="1.03" ry="0.79" transform="rotate(-52.31622741276033 87.40 333.50)" fill="#22b428" filter="url(#bl05)"/>
<ellipse cx="92.70" cy="336.60" rx="1.67" ry="1.23" transform="rotate(10.931949951758114 92.70 336.60)" fill="#3ee040" filter="url(#bl05)"/>
<ellipse cx="65.00" cy="333.50" rx="1.05" ry="0.97" transform="rotate(-56.27858982363 65.00 333.50)" fill="#3ee040" filter="url(#bl05)"/>
<ellipse cx="50.40" cy="337.70" rx="1.25" ry="0.88" transform="rotate(-3.2701093601439766 50.40 337.70)" fill="#3ee040" filter="url(#bl05)"/>
<ellipse cx="65.60" cy="339.00" rx="1.05" ry="0.79" transform="rotate(45.457536030657806 65.60 339.00)" fill="#22b428" filter="url(#bl05)"/>
<ellipse cx="48.60" cy="344.20" rx="1.29" ry="0.97" transform="rotate(50.531840110064934 48.60 344.20)" fill="#3ee040" filter="url(#bl05)"/>
<ellipse cx="51.60" cy="346.90" rx="1.40" ry="1.23" transform="rotate(36.1090525182274 51.60 346.90)" fill="#3ee040" filter="url(#bl05)"/>
<ellipse cx="59.30" cy="345.10" rx="1.03" ry="0.88" transform="rotate(52.27040660454253 59.30 345.10)" fill="#3ee040" filter="url(#bl05)"/>
<ellipse cx="67.10" cy="350.40" rx="1.63" ry="1.14" transform="rotate(-48.305482832294736 67.10 350.40)" fill="#3ee040" filter="url(#bl05)"/>
<ellipse cx="71.80" cy="351.30" rx="0.86" ry="0.88" transform="rotate(-33.96156705202352 71.80 351.30)" fill="#3ee040" filter="url(#bl05)"/>
<ellipse cx="80.80" cy="352.90" rx="1.30" ry="0.88" transform="rotate(-7.6605760047084885 80.80 352.90)" fill="#3ee040" filter="url(#bl05)"/>
<ellipse cx="57.30" cy="359.40" rx="1.12" ry="0.88" transform="rotate(-23.876856188939357 57.30 359.40)" fill="#3ee040" filter="url(#bl05)"/>
<ellipse cx="63.80" cy="359.10" rx="0.95" ry="0.79" transform="rotate(-13.696048938611696 63.80 359.10)" fill="#22b428" filter="url(#bl05)"/>
<ellipse cx="63.10" cy="363.60" rx="1.47" ry="1.32" transform="rotate(10.208892888643618 63.10 363.60)" fill="#3ee040" filter="url(#bl05)"/>
<ellipse cx="69.30" cy="363.20" rx="1.65" ry="1.32" transform="rotate(48.50421250173301 69.30 363.20)" fill="#3ee040" filter="url(#bl05)"/>
<ellipse cx="72.90" cy="365.00" rx="1.50" ry="1.14" transform="rotate(51.473472144002045 72.90 365.00)" fill="#3ee040" filter="url(#bl05)"/>
<ellipse cx="57.70" cy="368.30" rx="1.37" ry="0.97" transform="rotate(58.918757384257816 57.70 368.30)" fill="#3ee040" filter="url(#bl05)"/>
<ellipse cx="72.00" cy="371.40" rx="1.15" ry="0.88" transform="rotate(-40.428045363471625 72.00 371.40)" fill="#3ee040" filter="url(#bl05)"/>
<ellipse cx="78.20" cy="373.00" rx="1.12" ry="0.79" transform="rotate(55.75595367708736 78.20 373.00)" fill="#3ee040" filter="url(#bl05)"/>
<ellipse cx="66.20" cy="315.60" rx="1.02" ry="0.70" transform="rotate(8.292900416918812 66.20 315.60)" fill="#0f5a14" filter="url(#bl05)"/>
<ellipse cx="70.90" cy="315.60" rx="0.94" ry="0.70" transform="rotate(-34.6650019589282 70.90 315.60)" fill="#0f5a14" filter="url(#bl05)"/>
<ellipse cx="79.60" cy="320.10" rx="1.23" ry="0.88" transform="rotate(8.823882282154173 79.60 320.10)" fill="#0f5a14" filter="url(#bl05)"/>
<ellipse cx="56.60" cy="303.60" rx="0.66" ry="0.62" transform="rotate(-52.38473074257248 56.60 303.60)" fill="#0f5a14" filter="url(#bl05)"/>
<ellipse cx="106.60" cy="303.80" rx="1.12" ry="0.79" transform="rotate(58.77672179058975 106.60 303.80)" fill="#3ee040" filter="url(#bl05)"/>
<ellipse cx="110.60" cy="304.00" rx="0.75" ry="0.79" transform="rotate(36.071438550900226 110.60 304.00)" fill="#22b428" filter="url(#bl05)"/>
<ellipse cx="112.90" cy="304.50" rx="0.71" ry="0.62" transform="rotate(-41.908155065662854 112.90 304.50)" fill="#0f5a14" filter="url(#bl05)"/>
<ellipse cx="107.50" cy="308.90" rx="0.85" ry="0.79" transform="rotate(32.25502647328135 107.50 308.90)" fill="#3ee040" filter="url(#bl05)"/>
<ellipse cx="107.10" cy="312.10" rx="1.75" ry="1.23" transform="rotate(-54.697192664454796 107.10 312.10)" fill="#3ee040" filter="url(#bl05)"/>
<ellipse cx="127.00" cy="310.50" rx="1.12" ry="0.88" transform="rotate(-54.607170780475656 127.00 310.50)" fill="#3ee040" filter="url(#bl05)"/>
<ellipse cx="121.80" cy="315.90" rx="1.64" ry="1.23" transform="rotate(-20.2855024777191 121.80 315.90)" fill="#3ee040" filter="url(#bl05)"/>
<ellipse cx="115.70" cy="318.60" rx="1.26" ry="0.88" transform="rotate(57.67629082120075 115.70 318.60)" fill="#3ee040" filter="url(#bl05)"/>
<ellipse cx="98.40" cy="319.50" rx="1.59" ry="1.32" transform="rotate(59.82107344509318 98.40 319.50)" fill="#3ee040" filter="url(#bl05)"/>
<ellipse cx="125.40" cy="320.70" rx="1.24" ry="1.14" transform="rotate(-50.76351543535057 125.40 320.70)" fill="#3ee040" filter="url(#bl05)"/>
<ellipse cx="137.00" cy="321.00" rx="1.11" ry="0.88" transform="rotate(-56.23466853896187 137.00 321.00)" fill="#3ee040" filter="url(#bl05)"/>
<ellipse cx="116.60" cy="325.90" rx="0.90" ry="0.88" transform="rotate(-11.047663725961101 116.60 325.90)" fill="#3ee040" filter="url(#bl05)"/>
<ellipse cx="139.20" cy="327.90" rx="1.67" ry="1.32" transform="rotate(-41.25612107837223 139.20 327.90)" fill="#3ee040" filter="url(#bl05)"/>
<ellipse cx="123.40" cy="331.10" rx="0.81" ry="0.88" transform="rotate(44.13348407132669 123.40 331.10)" fill="#3ee040" filter="url(#bl05)"/>
<ellipse cx="128.90" cy="331.70" rx="0.86" ry="0.79" transform="rotate(55.03913116901461 128.90 331.70)" fill="#0f5a14" filter="url(#bl05)"/>
<ellipse cx="115.10" cy="334.60" rx="2.15" ry="1.50" transform="rotate(-14.665291270538077 115.10 334.60)" fill="#3ee040" filter="url(#bl05)"/>
<ellipse cx="110.90" cy="338.40" rx="1.04" ry="0.88" transform="rotate(2.408758151107669 110.90 338.40)" fill="#3ee040" filter="url(#bl05)"/>
<ellipse cx="127.00" cy="341.30" rx="1.13" ry="0.88" transform="rotate(11.478028608236457 127.00 341.30)" fill="#3ee040" filter="url(#bl05)"/>
<ellipse cx="112.00" cy="342.10" rx="0.98" ry="0.79" transform="rotate(14.415136253431442 112.00 342.10)" fill="#22b428" filter="url(#bl05)"/>
<ellipse cx="115.10" cy="343.80" rx="1.29" ry="0.88" transform="rotate(0.8432179134791724 115.10 343.80)" fill="#3ee040" filter="url(#bl05)"/>
<ellipse cx="106.40" cy="345.70" rx="0.92" ry="0.79" transform="rotate(26.4373502572966 106.40 345.70)" fill="#22b428" filter="url(#bl05)"/>
<ellipse cx="113.30" cy="348.00" rx="0.83" ry="0.79" transform="rotate(-23.869576659102073 113.30 348.00)" fill="#22b428" filter="url(#bl05)"/>
<ellipse cx="101.70" cy="349.10" rx="1.31" ry="0.88" transform="rotate(2.5352751937447167 101.70 349.10)" fill="#3ee040" filter="url(#bl05)"/>
<ellipse cx="100.50" cy="351.10" rx="1.08" ry="0.88" transform="rotate(-58.625101636293714 100.50 351.10)" fill="#3ee040" filter="url(#bl05)"/>
<ellipse cx="130.00" cy="350.00" rx="1.42" ry="1.23" transform="rotate(9.595825655647872 130.00 350.00)" fill="#3ee040" filter="url(#bl05)"/>
<ellipse cx="143.20" cy="348.90" rx="1.12" ry="1.23" transform="rotate(13.895752956750812 143.20 348.90)" fill="#3ee040" filter="url(#bl05)"/>
<ellipse cx="101.10" cy="360.70" rx="1.01" ry="0.79" transform="rotate(-52.79033872467324 101.10 360.70)" fill="#3ee040" filter="url(#bl05)"/>
<ellipse cx="113.75" cy="362.90" rx="1.01" ry="0.79" transform="rotate(-4.049948436395063 113.75 362.90)" fill="#22b428" filter="url(#bl05)"/>
<ellipse cx="107.00" cy="371.40" rx="1.61" ry="1.23" transform="rotate(-17.69076203507432 107.00 371.40)" fill="#3ee040" filter="url(#bl05)"/>
<ellipse cx="117.30" cy="356.30" rx="1.17" ry="0.88" transform="rotate(28.564114710244112 117.30 356.30)" fill="#3ee040" filter="url(#bl05)"/>
<ellipse cx="85.50" cy="357.00" rx="0.48" ry="0.53" transform="rotate(-52.73078356250432 85.50 357.00)" fill="#0f5a14" filter="url(#bl05)"/>
<ellipse cx="96.00" cy="340.00" rx="0.69" ry="0.53" transform="rotate(55.596669646350875 96.00 340.00)" fill="#0f5a14" filter="url(#bl05)"/>
<ellipse cx="135.00" cy="338.00" rx="0.55" ry="0.53" transform="rotate(-5.242544443634493 135.00 338.00)" fill="#0f5a14" filter="url(#bl05)"/>
<text x="101.50" y="286.80" font-size="11" text-anchor="start" font-weight="normal" fill="#e8e8e8" stroke="#e8e8e8" stroke-width="0.3" >400 μm</text>
<line x1="103.00" y1="291.00" x2="135.80" y2="291.00" stroke="#9a9a9a" stroke-width="1.3" />
<text x="101.50" y="361.60" font-size="11" text-anchor="start" font-weight="normal" fill="#e8e8e8" stroke="#e8e8e8" stroke-width="0.3" >400 μm</text>
<line x1="103.00" y1="365.80" x2="135.80" y2="365.80" stroke="#9a9a9a" stroke-width="1.3" />
<text transform="translate(20.20,258.50) rotate(-90)" font-size="13.5" text-anchor="middle" fill="#000" stroke="#000" stroke-width="0.3" >LN-</text>
<text transform="translate(37.50,258.50) rotate(-90)" font-size="13.5" text-anchor="middle" fill="#000" stroke="#000" stroke-width="0.3" >CTRL</text>
<text transform="translate(25.90,337.20) rotate(-90)" font-size="13.5" text-anchor="middle" fill="#000" stroke="#000" stroke-width="0.3" >LN-</text>
<text transform="translate(37.50,337.70) rotate(-90)" font-size="13" text-anchor="middle" fill="#000" stroke="#000" stroke-width="0.3" >FOXA2-OE</text>
<line x1="182.50" y1="240.75" x2="182.50" y2="316.75" stroke="#777" stroke-width="1.2" />
<line x1="180.00" y1="316.25" x2="238.75" y2="316.25" stroke="#222" stroke-width="1" />
<line x1="180.00" y1="316.25" x2="182.50" y2="316.25" stroke="#222" stroke-width="1" />
<text x="176.60" y="319.65" font-size="9.5" text-anchor="end" font-weight="normal" fill="#000" stroke="#000" stroke-width="0.2" >0</text>
<line x1="180.00" y1="301.25" x2="182.50" y2="301.25" stroke="#222" stroke-width="1" />
<text x="176.60" y="304.65" font-size="9.5" text-anchor="end" font-weight="normal" fill="#000" stroke="#000" stroke-width="0.2" >20</text>
<line x1="180.00" y1="286.25" x2="182.50" y2="286.25" stroke="#222" stroke-width="1" />
<text x="176.60" y="289.65" font-size="9.5" text-anchor="end" font-weight="normal" fill="#000" stroke="#000" stroke-width="0.2" >40</text>
<line x1="180.00" y1="271.25" x2="182.50" y2="271.25" stroke="#222" stroke-width="1" />
<text x="176.60" y="274.65" font-size="9.5" text-anchor="end" font-weight="normal" fill="#000" stroke="#000" stroke-width="0.2" >60</text>
<line x1="180.00" y1="256.25" x2="182.50" y2="256.25" stroke="#222" stroke-width="1" />
<text x="176.60" y="259.65" font-size="9.5" text-anchor="end" font-weight="normal" fill="#000" stroke="#000" stroke-width="0.2" >80</text>
<line x1="180.00" y1="241.25" x2="182.50" y2="241.25" stroke="#222" stroke-width="1" />
<text x="176.60" y="244.65" font-size="9.5" text-anchor="end" font-weight="normal" fill="#000" stroke="#000" stroke-width="0.2" >100</text>
<text transform="translate(155.80,277.00) rotate(-90)" font-size="9.5" text-anchor="middle" fill="#000" stroke="#000" stroke-width="0.2" >Migrated cell #</text>
<rect x="191.40" y="301.25" width="15.60" height="15.00" fill="#7f7f7f" stroke="#222" stroke-width="0.9" />
<rect x="215.60" y="253.25" width="15.80" height="63.00" fill="#f88a7a" stroke="#222" stroke-width="0.9" />
<line x1="199.20" y1="297.30" x2="199.20" y2="305.50" stroke="#222" stroke-width="0.8" />
<line x1="195.30" y1="297.30" x2="203.40" y2="297.30" stroke="#222" stroke-width="0.9" />
<line x1="195.30" y1="305.50" x2="203.40" y2="305.50" stroke="#222" stroke-width="0.9" />
<circle cx="199.40" cy="296.70" r="1.40" fill="#111" />
<circle cx="199.40" cy="302.00" r="1.40" fill="#111" />
<circle cx="199.40" cy="305.00" r="1.40" fill="#111" />
<circle cx="216.50" cy="253.40" r="1.30" fill="#e8262a" />
<circle cx="222.90" cy="253.40" r="1.30" fill="#e8262a" />
<circle cx="229.80" cy="253.40" r="1.30" fill="#e8262a" />
<line x1="216.00" y1="253.20" x2="231.00" y2="253.20" stroke="#e8262a" stroke-width="0.8" />
<path d="M199.25,248.2 V243.1 H224.25 V248.2" fill="none" stroke="#222" stroke-width="0.9"/>
<polygon points="204.85,235.90 205.35,237.43 206.93,237.10 205.86,238.30 206.93,239.50 205.35,239.17 204.85,240.70 204.35,239.17 202.77,239.50 203.84,238.30 202.77,237.10 204.35,237.43" fill="#000"/>
<polygon points="209.35,235.90 209.85,237.43 211.43,237.10 210.36,238.30 211.43,239.50 209.85,239.17 209.35,240.70 208.85,239.17 207.27,239.50 208.34,238.30 207.27,237.10 208.85,237.43" fill="#000"/>
<polygon points="213.85,235.90 214.35,237.43 215.93,237.10 214.86,238.30 215.93,239.50 214.35,239.17 213.85,240.70 213.35,239.17 211.77,239.50 212.84,238.30 211.77,237.10 213.35,237.43" fill="#000"/>
<polygon points="218.35,235.90 218.85,237.43 220.43,237.10 219.36,238.30 220.43,239.50 218.85,239.17 218.35,240.70 217.85,239.17 216.27,239.50 217.34,238.30 216.27,237.10 217.85,237.43" fill="#000"/>
<line x1="199.20" y1="316.25" x2="199.20" y2="318.55" stroke="#222" stroke-width="1" />
<line x1="223.50" y1="316.25" x2="223.50" y2="318.55" stroke="#222" stroke-width="1" />
<text transform="translate(201.90,326.50) rotate(-45)" font-size="9.5" text-anchor="end" fill="#000" stroke="#000" stroke-width="0.2" >LN_CTL</text>
<text transform="translate(226.00,326.20) rotate(-45)" font-size="9.5" text-anchor="end" fill="#000" stroke="#000" stroke-width="0.2" >LN_FOXA2OE</text>
<text x="272.50" y="218.50" font-size="19.3" text-anchor="start" font-weight="bold" fill="#000" stroke="#000" stroke-width="0" >g</text>
<text x="362.50" y="230.00" font-size="13.5" text-anchor="middle" font-weight="normal" fill="#000" stroke="#000" stroke-width="0.3" >CRPC-AR</text>
<line x1="320.00" y1="235.50" x2="320.00" y2="384.80" stroke="#333" stroke-width="1.1" />
<line x1="320.00" y1="384.30" x2="398.80" y2="384.30" stroke="#333" stroke-width="1.1" />
<line x1="317.80" y1="240.05" x2="320.00" y2="240.05" stroke="#333" stroke-width="0.9" />
<line x1="317.80" y1="276.65" x2="320.00" y2="276.65" stroke="#333" stroke-width="0.9" />
<line x1="317.80" y1="313.25" x2="320.00" y2="313.25" stroke="#333" stroke-width="0.9" />
<line x1="317.80" y1="349.85" x2="320.00" y2="349.85" stroke="#333" stroke-width="0.9" />
<line x1="341.60" y1="251.25" x2="341.60" y2="377.50" stroke="#555" stroke-width="0.8" />
<rect x="328.10" y="279.25" width="27.00" height="70.00" fill="#f9b4ae" stroke="#444" stroke-width="0.7" />
<line x1="328.10" y1="319.50" x2="355.10" y2="319.50" stroke="#222" stroke-width="1.6" />
<line x1="341.60" y1="384.30" x2="341.60" y2="386.50" stroke="#333" stroke-width="0.9" />
<rect x="345.33" y="330.48" width="1.40" height="1.40" fill="#111" stroke="none" stroke-width="1" />
<rect x="347.23" y="330.34" width="1.40" height="1.40" fill="#111" stroke="none" stroke-width="1" />
<rect x="347.55" y="263.59" width="1.40" height="1.40" fill="#111" stroke="none" stroke-width="1" />
<rect x="335.10" y="341.61" width="1.40" height="1.40" fill="#111" stroke="none" stroke-width="1" />
<rect x="341.56" y="355.52" width="1.40" height="1.40" fill="#111" stroke="none" stroke-width="1" />
<rect x="336.65" y="279.47" width="1.40" height="1.40" fill="#111" stroke="none" stroke-width="1" />
<rect x="344.89" y="374.44" width="1.40" height="1.40" fill="#111" stroke="none" stroke-width="1" />
<rect x="335.48" y="272.87" width="1.40" height="1.40" fill="#111" stroke="none" stroke-width="1" />
<rect x="333.43" y="287.42" width="1.40" height="1.40" fill="#111" stroke="none" stroke-width="1" />
<rect x="336.63" y="293.21" width="1.40" height="1.40" fill="#111" stroke="none" stroke-width="1" />
<rect x="337.74" y="339.62" width="1.40" height="1.40" fill="#111" stroke="none" stroke-width="1" />
<rect x="343.57" y="316.30" width="1.40" height="1.40" fill="#111" stroke="none" stroke-width="1" />
<rect x="343.76" y="276.90" width="1.40" height="1.40" fill="#111" stroke="none" stroke-width="1" />
<rect x="337.88" y="341.11" width="1.40" height="1.40" fill="#111" stroke="none" stroke-width="1" />
<rect x="335.59" y="353.24" width="1.40" height="1.40" fill="#111" stroke="none" stroke-width="1" />
<rect x="342.45" y="258.99" width="1.40" height="1.40" fill="#111" stroke="none" stroke-width="1" />
<rect x="338.47" y="269.53" width="1.40" height="1.40" fill="#111" stroke="none" stroke-width="1" />
<rect x="340.61" y="371.67" width="1.40" height="1.40" fill="#111" stroke="none" stroke-width="1" />
<rect x="343.97" y="362.14" width="1.40" height="1.40" fill="#111" stroke="none" stroke-width="1" />
<rect x="333.74" y="277.85" width="1.40" height="1.40" fill="#111" stroke="none" stroke-width="1" />
<rect x="333.67" y="337.69" width="1.40" height="1.40" fill="#111" stroke="none" stroke-width="1" />
<rect x="342.08" y="304.18" width="1.40" height="1.40" fill="#111" stroke="none" stroke-width="1" />
<rect x="336.11" y="251.86" width="1.40" height="1.40" fill="#111" stroke="none" stroke-width="1" />
<rect x="344.74" y="292.31" width="1.40" height="1.40" fill="#111" stroke="none" stroke-width="1" />
<rect x="338.57" y="344.49" width="1.40" height="1.40" fill="#111" stroke="none" stroke-width="1" />
<rect x="345.03" y="363.37" width="1.40" height="1.40" fill="#111" stroke="none" stroke-width="1" />
<rect x="345.36" y="271.51" width="1.40" height="1.40" fill="#111" stroke="none" stroke-width="1" />
<rect x="347.59" y="281.11" width="1.40" height="1.40" fill="#111" stroke="none" stroke-width="1" />
<rect x="342.56" y="260.09" width="1.40" height="1.40" fill="#111" stroke="none" stroke-width="1" />
<rect x="347.26" y="302.35" width="1.40" height="1.40" fill="#111" stroke="none" stroke-width="1" />
<rect x="338.15" y="300.42" width="1.40" height="1.40" fill="#111" stroke="none" stroke-width="1" />
<rect x="335.63" y="252.74" width="1.40" height="1.40" fill="#111" stroke="none" stroke-width="1" />
<rect x="335.82" y="348.32" width="1.40" height="1.40" fill="#111" stroke="none" stroke-width="1" />
<rect x="341.40" y="278.18" width="1.40" height="1.40" fill="#111" stroke="none" stroke-width="1" />
<rect x="342.31" y="355.25" width="1.40" height="1.40" fill="#111" stroke="none" stroke-width="1" />
<rect x="339.73" y="310.45" width="1.40" height="1.40" fill="#111" stroke="none" stroke-width="1" />
<rect x="333.89" y="276.20" width="1.40" height="1.40" fill="#111" stroke="none" stroke-width="1" />
<rect x="335.36" y="372.24" width="1.40" height="1.40" fill="#111" stroke="none" stroke-width="1" />
<rect x="342.86" y="345.04" width="1.40" height="1.40" fill="#111" stroke="none" stroke-width="1" />
<rect x="339.92" y="286.01" width="1.40" height="1.40" fill="#111" stroke="none" stroke-width="1" />
<rect x="337.82" y="274.20" width="1.40" height="1.40" fill="#111" stroke="none" stroke-width="1" />
<rect x="346.18" y="376.78" width="1.40" height="1.40" fill="#111" stroke="none" stroke-width="1" />
<rect x="340.72" y="310.30" width="1.40" height="1.40" fill="#111" stroke="none" stroke-width="1" />
<rect x="337.77" y="312.08" width="1.40" height="1.40" fill="#111" stroke="none" stroke-width="1" />
<rect x="339.06" y="352.69" width="1.40" height="1.40" fill="#111" stroke="none" stroke-width="1" />
<rect x="342.80" y="345.74" width="1.40" height="1.40" fill="#111" stroke="none" stroke-width="1" />
<rect x="334.74" y="358.11" width="1.40" height="1.40" fill="#111" stroke="none" stroke-width="1" />
<rect x="346.41" y="370.64" width="1.40" height="1.40" fill="#111" stroke="none" stroke-width="1" />
<rect x="345.02" y="370.76" width="1.40" height="1.40" fill="#111" stroke="none" stroke-width="1" />
<rect x="344.79" y="325.03" width="1.40" height="1.40" fill="#111" stroke="none" stroke-width="1" />
<rect x="337.61" y="368.45" width="1.40" height="1.40" fill="#111" stroke="none" stroke-width="1" />
<rect x="343.76" y="370.30" width="1.40" height="1.40" fill="#111" stroke="none" stroke-width="1" />
<rect x="343.15" y="375.26" width="1.40" height="1.40" fill="#111" stroke="none" stroke-width="1" />
<rect x="341.60" y="279.36" width="1.40" height="1.40" fill="#111" stroke="none" stroke-width="1" />
<rect x="340.34" y="367.52" width="1.40" height="1.40" fill="#111" stroke="none" stroke-width="1" />
<rect x="345.36" y="323.87" width="1.40" height="1.40" fill="#111" stroke="none" stroke-width="1" />
<rect x="344.47" y="366.74" width="1.40" height="1.40" fill="#111" stroke="none" stroke-width="1" />
<rect x="346.04" y="303.05" width="1.40" height="1.40" fill="#111" stroke="none" stroke-width="1" />
<rect x="348.04" y="326.73" width="1.40" height="1.40" fill="#111" stroke="none" stroke-width="1" />
<rect x="341.34" y="314.82" width="1.40" height="1.40" fill="#111" stroke="none" stroke-width="1" />
<rect x="347.46" y="273.98" width="1.40" height="1.40" fill="#111" stroke="none" stroke-width="1" />
<rect x="344.20" y="368.08" width="1.40" height="1.40" fill="#111" stroke="none" stroke-width="1" />
<rect x="345.11" y="290.58" width="1.40" height="1.40" fill="#111" stroke="none" stroke-width="1" />
<rect x="339.71" y="325.14" width="1.40" height="1.40" fill="#111" stroke="none" stroke-width="1" />
<rect x="342.95" y="332.78" width="1.40" height="1.40" fill="#111" stroke="none" stroke-width="1" />
<rect x="335.80" y="280.48" width="1.40" height="1.40" fill="#111" stroke="none" stroke-width="1" />
<rect x="336.69" y="366.92" width="1.40" height="1.40" fill="#111" stroke="none" stroke-width="1" />
<rect x="334.03" y="322.71" width="1.40" height="1.40" fill="#111" stroke="none" stroke-width="1" />
<rect x="334.21" y="354.94" width="1.40" height="1.40" fill="#111" stroke="none" stroke-width="1" />
<rect x="336.12" y="259.44" width="1.40" height="1.40" fill="#111" stroke="none" stroke-width="1" />
<line x1="377.80" y1="251.25" x2="377.80" y2="376.25" stroke="#555" stroke-width="0.8" />
<rect x="364.30" y="278.00" width="27.00" height="70.00" fill="#80dde0" stroke="#444" stroke-width="0.7" />
<line x1="364.30" y1="308.00" x2="391.30" y2="308.00" stroke="#222" stroke-width="1.6" />
<line x1="377.80" y1="384.30" x2="377.80" y2="386.50" stroke="#333" stroke-width="0.9" />
<rect x="376.58" y="251.50" width="1.40" height="1.40" fill="#111" stroke="none" stroke-width="1" />
<rect x="378.45" y="364.58" width="1.40" height="1.40" fill="#111" stroke="none" stroke-width="1" />
<rect x="369.61" y="274.71" width="1.40" height="1.40" fill="#111" stroke="none" stroke-width="1" />
<rect x="375.75" y="355.17" width="1.40" height="1.40" fill="#111" stroke="none" stroke-width="1" />
<rect x="375.21" y="272.79" width="1.40" height="1.40" fill="#111" stroke="none" stroke-width="1" />
<rect x="371.02" y="266.96" width="1.40" height="1.40" fill="#111" stroke="none" stroke-width="1" />
<rect x="378.31" y="301.06" width="1.40" height="1.40" fill="#111" stroke="none" stroke-width="1" />
<rect x="375.89" y="334.60" width="1.40" height="1.40" fill="#111" stroke="none" stroke-width="1" />
<rect x="375.14" y="322.26" width="1.40" height="1.40" fill="#111" stroke="none" stroke-width="1" />
<rect x="378.06" y="266.49" width="1.40" height="1.40" fill="#111" stroke="none" stroke-width="1" />
<rect x="378.73" y="345.06" width="1.40" height="1.40" fill="#111" stroke="none" stroke-width="1" />
<rect x="369.61" y="372.54" width="1.40" height="1.40" fill="#111" stroke="none" stroke-width="1" />
<rect x="378.83" y="265.69" width="1.40" height="1.40" fill="#111" stroke="none" stroke-width="1" />
<rect x="382.97" y="267.39" width="1.40" height="1.40" fill="#111" stroke="none" stroke-width="1" />
<rect x="373.00" y="359.50" width="1.40" height="1.40" fill="#111" stroke="none" stroke-width="1" />
<rect x="375.30" y="374.77" width="1.40" height="1.40" fill="#111" stroke="none" stroke-width="1" />
<rect x="378.54" y="341.26" width="1.40" height="1.40" fill="#111" stroke="none" stroke-width="1" />
<rect x="377.04" y="375.01" width="1.40" height="1.40" fill="#111" stroke="none" stroke-width="1" />
<rect x="384.36" y="356.32" width="1.40" height="1.40" fill="#111" stroke="none" stroke-width="1" />
<rect x="376.75" y="355.39" width="1.40" height="1.40" fill="#111" stroke="none" stroke-width="1" />
<rect x="376.25" y="267.18" width="1.40" height="1.40" fill="#111" stroke="none" stroke-width="1" />
<rect x="382.00" y="369.38" width="1.40" height="1.40" fill="#111" stroke="none" stroke-width="1" />
<rect x="373.71" y="264.80" width="1.40" height="1.40" fill="#111" stroke="none" stroke-width="1" />
<rect x="373.28" y="332.03" width="1.40" height="1.40" fill="#111" stroke="none" stroke-width="1" />
<rect x="384.43" y="351.67" width="1.40" height="1.40" fill="#111" stroke="none" stroke-width="1" />
<rect x="376.72" y="364.48" width="1.40" height="1.40" fill="#111" stroke="none" stroke-width="1" />
<rect x="380.75" y="319.57" width="1.40" height="1.40" fill="#111" stroke="none" stroke-width="1" />
<rect x="374.11" y="270.89" width="1.40" height="1.40" fill="#111" stroke="none" stroke-width="1" />
<rect x="374.05" y="300.83" width="1.40" height="1.40" fill="#111" stroke="none" stroke-width="1" />
<rect x="375.02" y="309.80" width="1.40" height="1.40" fill="#111" stroke="none" stroke-width="1" />
<rect x="370.15" y="318.66" width="1.40" height="1.40" fill="#111" stroke="none" stroke-width="1" />
<rect x="383.35" y="360.17" width="1.40" height="1.40" fill="#111" stroke="none" stroke-width="1" />
<rect x="369.82" y="315.49" width="1.40" height="1.40" fill="#111" stroke="none" stroke-width="1" />
<rect x="378.23" y="307.24" width="1.40" height="1.40" fill="#111" stroke="none" stroke-width="1" />
<rect x="376.83" y="321.56" width="1.40" height="1.40" fill="#111" stroke="none" stroke-width="1" />
<rect x="375.48" y="304.28" width="1.40" height="1.40" fill="#111" stroke="none" stroke-width="1" />
<rect x="374.05" y="291.05" width="1.40" height="1.40" fill="#111" stroke="none" stroke-width="1" />
<rect x="382.14" y="281.92" width="1.40" height="1.40" fill="#111" stroke="none" stroke-width="1" />
<rect x="373.90" y="307.60" width="1.40" height="1.40" fill="#111" stroke="none" stroke-width="1" />
<rect x="371.74" y="341.05" width="1.40" height="1.40" fill="#111" stroke="none" stroke-width="1" />
<rect x="377.07" y="362.81" width="1.40" height="1.40" fill="#111" stroke="none" stroke-width="1" />
<rect x="378.39" y="351.64" width="1.40" height="1.40" fill="#111" stroke="none" stroke-width="1" />
<rect x="373.05" y="282.09" width="1.40" height="1.40" fill="#111" stroke="none" stroke-width="1" />
<rect x="379.55" y="332.72" width="1.40" height="1.40" fill="#111" stroke="none" stroke-width="1" />
<rect x="384.28" y="269.88" width="1.40" height="1.40" fill="#111" stroke="none" stroke-width="1" />
<rect x="370.33" y="326.39" width="1.40" height="1.40" fill="#111" stroke="none" stroke-width="1" />
<rect x="379.29" y="292.65" width="1.40" height="1.40" fill="#111" stroke="none" stroke-width="1" />
<rect x="371.62" y="327.17" width="1.40" height="1.40" fill="#111" stroke="none" stroke-width="1" />
<rect x="371.85" y="373.23" width="1.40" height="1.40" fill="#111" stroke="none" stroke-width="1" />
<rect x="372.02" y="306.28" width="1.40" height="1.40" fill="#111" stroke="none" stroke-width="1" />
<rect x="371.22" y="280.35" width="1.40" height="1.40" fill="#111" stroke="none" stroke-width="1" />
<rect x="370.46" y="349.33" width="1.40" height="1.40" fill="#111" stroke="none" stroke-width="1" />
<rect x="382.78" y="329.26" width="1.40" height="1.40" fill="#111" stroke="none" stroke-width="1" />
<rect x="374.32" y="262.10" width="1.40" height="1.40" fill="#111" stroke="none" stroke-width="1" />
<rect x="383.68" y="311.57" width="1.40" height="1.40" fill="#111" stroke="none" stroke-width="1" />
<rect x="380.06" y="348.87" width="1.40" height="1.40" fill="#111" stroke="none" stroke-width="1" />
<rect x="377.19" y="267.44" width="1.40" height="1.40" fill="#111" stroke="none" stroke-width="1" />
<rect x="378.91" y="316.14" width="1.40" height="1.40" fill="#111" stroke="none" stroke-width="1" />
<rect x="373.41" y="362.88" width="1.40" height="1.40" fill="#111" stroke="none" stroke-width="1" />
<rect x="371.61" y="313.49" width="1.40" height="1.40" fill="#111" stroke="none" stroke-width="1" />
<rect x="380.65" y="260.48" width="1.40" height="1.40" fill="#111" stroke="none" stroke-width="1" />
<rect x="379.43" y="269.63" width="1.40" height="1.40" fill="#111" stroke="none" stroke-width="1" />
<rect x="370.97" y="268.42" width="1.40" height="1.40" fill="#111" stroke="none" stroke-width="1" />
<rect x="373.18" y="266.44" width="1.40" height="1.40" fill="#111" stroke="none" stroke-width="1" />
<rect x="374.45" y="310.93" width="1.40" height="1.40" fill="#111" stroke="none" stroke-width="1" />
<rect x="380.48" y="279.36" width="1.40" height="1.40" fill="#111" stroke="none" stroke-width="1" />
<rect x="383.88" y="254.58" width="1.40" height="1.40" fill="#111" stroke="none" stroke-width="1" />
<rect x="371.34" y="292.92" width="1.40" height="1.40" fill="#111" stroke="none" stroke-width="1" />
<rect x="381.91" y="323.85" width="1.40" height="1.40" fill="#111" stroke="none" stroke-width="1" />
<rect x="374.91" y="267.26" width="1.40" height="1.40" fill="#111" stroke="none" stroke-width="1" />
<path d="M341.60,247 V243.2 H377.80 V247" fill="none" stroke="#444" stroke-width="0.7"/>
<text x="359.70" y="240.80" font-size="7.5" text-anchor="middle" font-weight="normal" fill="#222" stroke="#222" stroke-width="0.2" >0.32</text>
<text transform="translate(348.90,386.90) rotate(-58)" font-size="13" text-anchor="end" fill="#000" stroke="#000" stroke-width="0.3" >CTRL</text>
<text transform="translate(382.20,391.00) rotate(-58)" font-size="13" text-anchor="end" fill="#000" stroke="#000" stroke-width="0.3" >FOXA2-OE</text>
<text x="459.75" y="230.00" font-size="13.5" text-anchor="middle" font-weight="normal" fill="#000" stroke="#000" stroke-width="0.3" >CRPC-SCL</text>
<line x1="416.25" y1="235.50" x2="416.25" y2="384.80" stroke="#333" stroke-width="1.1" />
<line x1="416.25" y1="384.30" x2="493.75" y2="384.30" stroke="#333" stroke-width="1.1" />
<line x1="414.05" y1="240.05" x2="416.25" y2="240.05" stroke="#333" stroke-width="0.9" />
<line x1="414.05" y1="276.65" x2="416.25" y2="276.65" stroke="#333" stroke-width="0.9" />
<line x1="414.05" y1="313.25" x2="416.25" y2="313.25" stroke="#333" stroke-width="0.9" />
<line x1="414.05" y1="349.85" x2="416.25" y2="349.85" stroke="#333" stroke-width="0.9" />
<line x1="437.20" y1="249.25" x2="437.20" y2="377.00" stroke="#555" stroke-width="0.8" />
<rect x="423.70" y="274.50" width="27.00" height="69.75" fill="#f9b4ae" stroke="#444" stroke-width="0.7" />
<line x1="423.70" y1="299.50" x2="450.70" y2="299.50" stroke="#222" stroke-width="1.6" />
<line x1="437.20" y1="384.30" x2="437.20" y2="386.50" stroke="#333" stroke-width="0.9" />
<rect x="438.21" y="256.96" width="1.40" height="1.40" fill="#111" stroke="none" stroke-width="1" />
<rect x="431.05" y="356.18" width="1.40" height="1.40" fill="#111" stroke="none" stroke-width="1" />
<rect x="441.07" y="318.99" width="1.40" height="1.40" fill="#111" stroke="none" stroke-width="1" />
<rect x="436.76" y="371.44" width="1.40" height="1.40" fill="#111" stroke="none" stroke-width="1" />
<rect x="440.10" y="313.78" width="1.40" height="1.40" fill="#111" stroke="none" stroke-width="1" />
<rect x="429.50" y="346.73" width="1.40" height="1.40" fill="#111" stroke="none" stroke-width="1" />
<rect x="442.34" y="249.55" width="1.40" height="1.40" fill="#111" stroke="none" stroke-width="1" />
<rect x="429.01" y="368.45" width="1.40" height="1.40" fill="#111" stroke="none" stroke-width="1" />
<rect x="438.29" y="372.69" width="1.40" height="1.40" fill="#111" stroke="none" stroke-width="1" />
<rect x="430.50" y="358.80" width="1.40" height="1.40" fill="#111" stroke="none" stroke-width="1" />
<rect x="434.62" y="252.57" width="1.40" height="1.40" fill="#111" stroke="none" stroke-width="1" />
<rect x="431.28" y="372.38" width="1.40" height="1.40" fill="#111" stroke="none" stroke-width="1" />
<rect x="431.42" y="352.64" width="1.40" height="1.40" fill="#111" stroke="none" stroke-width="1" />
<rect x="436.23" y="351.25" width="1.40" height="1.40" fill="#111" stroke="none" stroke-width="1" />
<rect x="434.53" y="271.89" width="1.40" height="1.40" fill="#111" stroke="none" stroke-width="1" />
<rect x="439.11" y="321.77" width="1.40" height="1.40" fill="#111" stroke="none" stroke-width="1" />
<rect x="430.77" y="374.51" width="1.40" height="1.40" fill="#111" stroke="none" stroke-width="1" />
<rect x="439.12" y="294.10" width="1.40" height="1.40" fill="#111" stroke="none" stroke-width="1" />
<rect x="432.02" y="285.19" width="1.40" height="1.40" fill="#111" stroke="none" stroke-width="1" />
<rect x="430.17" y="254.37" width="1.40" height="1.40" fill="#111" stroke="none" stroke-width="1" />
<rect x="434.46" y="375.44" width="1.40" height="1.40" fill="#111" stroke="none" stroke-width="1" />
<rect x="433.25" y="358.88" width="1.40" height="1.40" fill="#111" stroke="none" stroke-width="1" />
<rect x="431.45" y="323.88" width="1.40" height="1.40" fill="#111" stroke="none" stroke-width="1" />
<rect x="443.11" y="265.52" width="1.40" height="1.40" fill="#111" stroke="none" stroke-width="1" />
<rect x="443.63" y="303.84" width="1.40" height="1.40" fill="#111" stroke="none" stroke-width="1" />
<rect x="440.69" y="250.09" width="1.40" height="1.40" fill="#111" stroke="none" stroke-width="1" />
<rect x="437.23" y="345.02" width="1.40" height="1.40" fill="#111" stroke="none" stroke-width="1" />
<rect x="434.25" y="310.00" width="1.40" height="1.40" fill="#111" stroke="none" stroke-width="1" />
<rect x="442.48" y="250.35" width="1.40" height="1.40" fill="#111" stroke="none" stroke-width="1" />
<rect x="429.81" y="374.20" width="1.40" height="1.40" fill="#111" stroke="none" stroke-width="1" />
<rect x="434.96" y="249.82" width="1.40" height="1.40" fill="#111" stroke="none" stroke-width="1" />
<rect x="435.11" y="255.00" width="1.40" height="1.40" fill="#111" stroke="none" stroke-width="1" />
<rect x="429.56" y="345.23" width="1.40" height="1.40" fill="#111" stroke="none" stroke-width="1" />
<rect x="436.63" y="286.31" width="1.40" height="1.40" fill="#111" stroke="none" stroke-width="1" />
<rect x="430.27" y="360.95" width="1.40" height="1.40" fill="#111" stroke="none" stroke-width="1" />
<rect x="437.13" y="347.09" width="1.40" height="1.40" fill="#111" stroke="none" stroke-width="1" />
<rect x="441.85" y="315.53" width="1.40" height="1.40" fill="#111" stroke="none" stroke-width="1" />
<rect x="437.09" y="248.99" width="1.40" height="1.40" fill="#111" stroke="none" stroke-width="1" />
<rect x="434.65" y="362.26" width="1.40" height="1.40" fill="#111" stroke="none" stroke-width="1" />
<rect x="442.69" y="324.41" width="1.40" height="1.40" fill="#111" stroke="none" stroke-width="1" />
<rect x="441.40" y="358.26" width="1.40" height="1.40" fill="#111" stroke="none" stroke-width="1" />
<rect x="433.68" y="251.47" width="1.40" height="1.40" fill="#111" stroke="none" stroke-width="1" />
<rect x="441.29" y="268.05" width="1.40" height="1.40" fill="#111" stroke="none" stroke-width="1" />
<rect x="430.23" y="347.80" width="1.40" height="1.40" fill="#111" stroke="none" stroke-width="1" />
<rect x="435.43" y="250.68" width="1.40" height="1.40" fill="#111" stroke="none" stroke-width="1" />
<rect x="429.92" y="290.92" width="1.40" height="1.40" fill="#111" stroke="none" stroke-width="1" />
<rect x="432.00" y="277.15" width="1.40" height="1.40" fill="#111" stroke="none" stroke-width="1" />
<rect x="430.48" y="355.79" width="1.40" height="1.40" fill="#111" stroke="none" stroke-width="1" />
<rect x="440.28" y="353.83" width="1.40" height="1.40" fill="#111" stroke="none" stroke-width="1" />
<rect x="438.81" y="336.30" width="1.40" height="1.40" fill="#111" stroke="none" stroke-width="1" />
<rect x="435.63" y="313.89" width="1.40" height="1.40" fill="#111" stroke="none" stroke-width="1" />
<rect x="443.32" y="319.52" width="1.40" height="1.40" fill="#111" stroke="none" stroke-width="1" />
<rect x="433.02" y="322.71" width="1.40" height="1.40" fill="#111" stroke="none" stroke-width="1" />
<rect x="430.95" y="300.47" width="1.40" height="1.40" fill="#111" stroke="none" stroke-width="1" />
<rect x="432.94" y="252.83" width="1.40" height="1.40" fill="#111" stroke="none" stroke-width="1" />
<rect x="429.95" y="293.72" width="1.40" height="1.40" fill="#111" stroke="none" stroke-width="1" />
<rect x="429.41" y="312.67" width="1.40" height="1.40" fill="#111" stroke="none" stroke-width="1" />
<rect x="434.36" y="251.84" width="1.40" height="1.40" fill="#111" stroke="none" stroke-width="1" />
<rect x="438.18" y="340.01" width="1.40" height="1.40" fill="#111" stroke="none" stroke-width="1" />
<rect x="434.44" y="259.38" width="1.40" height="1.40" fill="#111" stroke="none" stroke-width="1" />
<rect x="437.77" y="343.96" width="1.40" height="1.40" fill="#111" stroke="none" stroke-width="1" />
<rect x="430.43" y="324.50" width="1.40" height="1.40" fill="#111" stroke="none" stroke-width="1" />
<rect x="439.64" y="285.74" width="1.40" height="1.40" fill="#111" stroke="none" stroke-width="1" />
<rect x="440.92" y="374.29" width="1.40" height="1.40" fill="#111" stroke="none" stroke-width="1" />
<rect x="442.72" y="256.56" width="1.40" height="1.40" fill="#111" stroke="none" stroke-width="1" />
<rect x="435.62" y="357.77" width="1.40" height="1.40" fill="#111" stroke="none" stroke-width="1" />
<rect x="436.99" y="339.11" width="1.40" height="1.40" fill="#111" stroke="none" stroke-width="1" />
<rect x="430.55" y="315.37" width="1.40" height="1.40" fill="#111" stroke="none" stroke-width="1" />
<rect x="429.78" y="303.06" width="1.40" height="1.40" fill="#111" stroke="none" stroke-width="1" />
<rect x="437.65" y="276.09" width="1.40" height="1.40" fill="#111" stroke="none" stroke-width="1" />
<line x1="472.50" y1="248.00" x2="472.50" y2="376.25" stroke="#555" stroke-width="0.8" />
<rect x="459.00" y="280.50" width="27.00" height="69.75" fill="#80dde0" stroke="#444" stroke-width="0.7" />
<line x1="459.00" y1="325.00" x2="486.00" y2="325.00" stroke="#222" stroke-width="1.6" />
<line x1="472.50" y1="384.30" x2="472.50" y2="386.50" stroke="#333" stroke-width="0.9" />
<rect x="470.19" y="372.48" width="1.40" height="1.40" fill="#111" stroke="none" stroke-width="1" />
<rect x="467.32" y="256.30" width="1.40" height="1.40" fill="#111" stroke="none" stroke-width="1" />
<rect x="475.57" y="304.70" width="1.40" height="1.40" fill="#111" stroke="none" stroke-width="1" />
<rect x="468.02" y="258.73" width="1.40" height="1.40" fill="#111" stroke="none" stroke-width="1" />
<rect x="477.05" y="338.40" width="1.40" height="1.40" fill="#111" stroke="none" stroke-width="1" />
<rect x="466.45" y="307.76" width="1.40" height="1.40" fill="#111" stroke="none" stroke-width="1" />
<rect x="464.87" y="313.99" width="1.40" height="1.40" fill="#111" stroke="none" stroke-width="1" />
<rect x="475.07" y="250.51" width="1.40" height="1.40" fill="#111" stroke="none" stroke-width="1" />
<rect x="476.26" y="293.70" width="1.40" height="1.40" fill="#111" stroke="none" stroke-width="1" />
<rect x="477.25" y="367.31" width="1.40" height="1.40" fill="#111" stroke="none" stroke-width="1" />
<rect x="469.95" y="335.63" width="1.40" height="1.40" fill="#111" stroke="none" stroke-width="1" />
<rect x="473.10" y="263.93" width="1.40" height="1.40" fill="#111" stroke="none" stroke-width="1" />
<rect x="469.06" y="259.95" width="1.40" height="1.40" fill="#111" stroke="none" stroke-width="1" />
<rect x="470.04" y="257.44" width="1.40" height="1.40" fill="#111" stroke="none" stroke-width="1" />
<rect x="470.29" y="367.84" width="1.40" height="1.40" fill="#111" stroke="none" stroke-width="1" />
<rect x="478.16" y="336.68" width="1.40" height="1.40" fill="#111" stroke="none" stroke-width="1" />
<rect x="472.35" y="326.54" width="1.40" height="1.40" fill="#111" stroke="none" stroke-width="1" />
<rect x="473.20" y="305.11" width="1.40" height="1.40" fill="#111" stroke="none" stroke-width="1" />
<rect x="468.56" y="316.22" width="1.40" height="1.40" fill="#111" stroke="none" stroke-width="1" />
<rect x="469.64" y="250.14" width="1.40" height="1.40" fill="#111" stroke="none" stroke-width="1" />
<rect x="475.02" y="332.78" width="1.40" height="1.40" fill="#111" stroke="none" stroke-width="1" />
<rect x="468.42" y="373.71" width="1.40" height="1.40" fill="#111" stroke="none" stroke-width="1" />
<rect x="475.60" y="284.82" width="1.40" height="1.40" fill="#111" stroke="none" stroke-width="1" />
<rect x="477.76" y="346.54" width="1.40" height="1.40" fill="#111" stroke="none" stroke-width="1" />
<rect x="475.38" y="338.27" width="1.40" height="1.40" fill="#111" stroke="none" stroke-width="1" />
<rect x="472.05" y="294.36" width="1.40" height="1.40" fill="#111" stroke="none" stroke-width="1" />
<rect x="478.92" y="296.48" width="1.40" height="1.40" fill="#111" stroke="none" stroke-width="1" />
<rect x="464.34" y="307.24" width="1.40" height="1.40" fill="#111" stroke="none" stroke-width="1" />
<rect x="474.10" y="354.18" width="1.40" height="1.40" fill="#111" stroke="none" stroke-width="1" />
<rect x="473.50" y="343.28" width="1.40" height="1.40" fill="#111" stroke="none" stroke-width="1" />
<rect x="474.63" y="352.38" width="1.40" height="1.40" fill="#111" stroke="none" stroke-width="1" />
<rect x="469.91" y="329.69" width="1.40" height="1.40" fill="#111" stroke="none" stroke-width="1" />
<rect x="468.88" y="294.64" width="1.40" height="1.40" fill="#111" stroke="none" stroke-width="1" />
<rect x="477.76" y="365.73" width="1.40" height="1.40" fill="#111" stroke="none" stroke-width="1" />
<rect x="475.80" y="267.87" width="1.40" height="1.40" fill="#111" stroke="none" stroke-width="1" />
<rect x="472.79" y="249.34" width="1.40" height="1.40" fill="#111" stroke="none" stroke-width="1" />
<rect x="475.22" y="341.08" width="1.40" height="1.40" fill="#111" stroke="none" stroke-width="1" />
<rect x="472.23" y="360.61" width="1.40" height="1.40" fill="#111" stroke="none" stroke-width="1" />
<rect x="468.51" y="300.89" width="1.40" height="1.40" fill="#111" stroke="none" stroke-width="1" />
<rect x="467.11" y="347.22" width="1.40" height="1.40" fill="#111" stroke="none" stroke-width="1" />
<rect x="472.74" y="251.06" width="1.40" height="1.40" fill="#111" stroke="none" stroke-width="1" />
<rect x="467.15" y="292.63" width="1.40" height="1.40" fill="#111" stroke="none" stroke-width="1" />
<rect x="474.65" y="324.88" width="1.40" height="1.40" fill="#111" stroke="none" stroke-width="1" />
<rect x="471.57" y="284.08" width="1.40" height="1.40" fill="#111" stroke="none" stroke-width="1" />
<rect x="469.08" y="346.57" width="1.40" height="1.40" fill="#111" stroke="none" stroke-width="1" />
<rect x="478.20" y="324.80" width="1.40" height="1.40" fill="#111" stroke="none" stroke-width="1" />
<rect x="476.91" y="269.95" width="1.40" height="1.40" fill="#111" stroke="none" stroke-width="1" />
<rect x="467.20" y="352.17" width="1.40" height="1.40" fill="#111" stroke="none" stroke-width="1" />
<rect x="466.58" y="250.32" width="1.40" height="1.40" fill="#111" stroke="none" stroke-width="1" />
<rect x="475.67" y="287.12" width="1.40" height="1.40" fill="#111" stroke="none" stroke-width="1" />
<rect x="476.36" y="336.74" width="1.40" height="1.40" fill="#111" stroke="none" stroke-width="1" />
<rect x="478.65" y="344.25" width="1.40" height="1.40" fill="#111" stroke="none" stroke-width="1" />
<rect x="465.85" y="347.12" width="1.40" height="1.40" fill="#111" stroke="none" stroke-width="1" />
<rect x="467.40" y="249.39" width="1.40" height="1.40" fill="#111" stroke="none" stroke-width="1" />
<rect x="474.51" y="361.48" width="1.40" height="1.40" fill="#111" stroke="none" stroke-width="1" />
<rect x="470.35" y="285.64" width="1.40" height="1.40" fill="#111" stroke="none" stroke-width="1" />
<rect x="466.06" y="305.97" width="1.40" height="1.40" fill="#111" stroke="none" stroke-width="1" />
<rect x="474.56" y="305.92" width="1.40" height="1.40" fill="#111" stroke="none" stroke-width="1" />
<rect x="478.48" y="374.58" width="1.40" height="1.40" fill="#111" stroke="none" stroke-width="1" />
<rect x="475.12" y="271.99" width="1.40" height="1.40" fill="#111" stroke="none" stroke-width="1" />
<rect x="471.49" y="352.59" width="1.40" height="1.40" fill="#111" stroke="none" stroke-width="1" />
<rect x="478.08" y="368.72" width="1.40" height="1.40" fill="#111" stroke="none" stroke-width="1" />
<rect x="471.78" y="357.11" width="1.40" height="1.40" fill="#111" stroke="none" stroke-width="1" />
<rect x="472.94" y="334.83" width="1.40" height="1.40" fill="#111" stroke="none" stroke-width="1" />
<rect x="477.02" y="358.31" width="1.40" height="1.40" fill="#111" stroke="none" stroke-width="1" />
<rect x="470.61" y="283.32" width="1.40" height="1.40" fill="#111" stroke="none" stroke-width="1" />
<rect x="465.40" y="268.95" width="1.40" height="1.40" fill="#111" stroke="none" stroke-width="1" />
<rect x="471.46" y="352.05" width="1.40" height="1.40" fill="#111" stroke="none" stroke-width="1" />
<rect x="470.09" y="317.56" width="1.40" height="1.40" fill="#111" stroke="none" stroke-width="1" />
<rect x="469.64" y="286.20" width="1.40" height="1.40" fill="#111" stroke="none" stroke-width="1" />
<path d="M437.20,247 V243.2 H472.50 V247" fill="none" stroke="#444" stroke-width="0.7"/>
<text x="454.85" y="240.80" font-size="7.5" text-anchor="middle" font-weight="normal" fill="#222" stroke="#222" stroke-width="0.2" >0.039</text>
<text transform="translate(444.50,386.90) rotate(-58)" font-size="13" text-anchor="end" fill="#000" stroke="#000" stroke-width="0.3" >CTRL</text>
<text transform="translate(476.90,391.00) rotate(-58)" font-size="13" text-anchor="end" fill="#000" stroke="#000" stroke-width="0.3" >FOXA2-OE</text>
<text x="552.40" y="230.00" font-size="13.5" text-anchor="middle" font-weight="normal" fill="#000" stroke="#000" stroke-width="0.3" >CRPC-NE</text>
<line x1="508.75" y1="235.50" x2="508.75" y2="384.80" stroke="#333" stroke-width="1.1" />
<line x1="508.75" y1="384.30" x2="587.25" y2="384.30" stroke="#333" stroke-width="1.1" />
<line x1="506.55" y1="240.05" x2="508.75" y2="240.05" stroke="#333" stroke-width="0.9" />
<line x1="506.55" y1="276.65" x2="508.75" y2="276.65" stroke="#333" stroke-width="0.9" />
<line x1="506.55" y1="313.25" x2="508.75" y2="313.25" stroke="#333" stroke-width="0.9" />
<line x1="506.55" y1="349.85" x2="508.75" y2="349.85" stroke="#333" stroke-width="0.9" />
<line x1="530.40" y1="248.25" x2="530.40" y2="377.00" stroke="#555" stroke-width="0.8" />
<rect x="516.90" y="288.25" width="27.00" height="72.50" fill="#f9b4ae" stroke="#444" stroke-width="0.7" />
<line x1="516.90" y1="339.25" x2="543.90" y2="339.25" stroke="#222" stroke-width="1.6" />
<line x1="530.40" y1="384.30" x2="530.40" y2="386.50" stroke="#333" stroke-width="0.9" />
<rect x="533.69" y="287.92" width="1.40" height="1.40" fill="#111" stroke="none" stroke-width="1" />
<rect x="525.96" y="360.32" width="1.40" height="1.40" fill="#111" stroke="none" stroke-width="1" />
<rect x="529.95" y="366.27" width="1.40" height="1.40" fill="#111" stroke="none" stroke-width="1" />
<rect x="536.81" y="256.29" width="1.40" height="1.40" fill="#111" stroke="none" stroke-width="1" />
<rect x="523.48" y="367.72" width="1.40" height="1.40" fill="#111" stroke="none" stroke-width="1" />
<rect x="532.51" y="375.56" width="1.40" height="1.40" fill="#111" stroke="none" stroke-width="1" />
<rect x="528.09" y="291.39" width="1.40" height="1.40" fill="#111" stroke="none" stroke-width="1" />
<rect x="531.10" y="319.07" width="1.40" height="1.40" fill="#111" stroke="none" stroke-width="1" />
<rect x="531.74" y="334.32" width="1.40" height="1.40" fill="#111" stroke="none" stroke-width="1" />
<rect x="533.74" y="248.50" width="1.40" height="1.40" fill="#111" stroke="none" stroke-width="1" />
<rect x="534.59" y="374.26" width="1.40" height="1.40" fill="#111" stroke="none" stroke-width="1" />
<rect x="537.19" y="314.99" width="1.40" height="1.40" fill="#111" stroke="none" stroke-width="1" />
<rect x="524.42" y="352.20" width="1.40" height="1.40" fill="#111" stroke="none" stroke-width="1" />
<rect x="536.78" y="318.15" width="1.40" height="1.40" fill="#111" stroke="none" stroke-width="1" />
<rect x="528.52" y="303.26" width="1.40" height="1.40" fill="#111" stroke="none" stroke-width="1" />
<rect x="526.50" y="367.68" width="1.40" height="1.40" fill="#111" stroke="none" stroke-width="1" />
<rect x="524.74" y="296.49" width="1.40" height="1.40" fill="#111" stroke="none" stroke-width="1" />
<rect x="527.92" y="361.25" width="1.40" height="1.40" fill="#111" stroke="none" stroke-width="1" />
<rect x="525.15" y="351.74" width="1.40" height="1.40" fill="#111" stroke="none" stroke-width="1" />
<rect x="536.61" y="280.68" width="1.40" height="1.40" fill="#111" stroke="none" stroke-width="1" />
<rect x="525.75" y="297.43" width="1.40" height="1.40" fill="#111" stroke="none" stroke-width="1" />
<rect x="522.67" y="355.52" width="1.40" height="1.40" fill="#111" stroke="none" stroke-width="1" />
<rect x="526.20" y="264.71" width="1.40" height="1.40" fill="#111" stroke="none" stroke-width="1" />
<rect x="533.83" y="314.59" width="1.40" height="1.40" fill="#111" stroke="none" stroke-width="1" />
<rect x="536.82" y="268.28" width="1.40" height="1.40" fill="#111" stroke="none" stroke-width="1" />
<rect x="523.86" y="294.08" width="1.40" height="1.40" fill="#111" stroke="none" stroke-width="1" />
<rect x="527.73" y="314.74" width="1.40" height="1.40" fill="#111" stroke="none" stroke-width="1" />
<rect x="536.69" y="369.50" width="1.40" height="1.40" fill="#111" stroke="none" stroke-width="1" />
<rect x="526.15" y="270.30" width="1.40" height="1.40" fill="#111" stroke="none" stroke-width="1" />
<rect x="524.20" y="340.58" width="1.40" height="1.40" fill="#111" stroke="none" stroke-width="1" />
<rect x="522.32" y="371.52" width="1.40" height="1.40" fill="#111" stroke="none" stroke-width="1" />
<rect x="529.76" y="317.92" width="1.40" height="1.40" fill="#111" stroke="none" stroke-width="1" />
<rect x="523.04" y="345.03" width="1.40" height="1.40" fill="#111" stroke="none" stroke-width="1" />
<rect x="527.98" y="290.33" width="1.40" height="1.40" fill="#111" stroke="none" stroke-width="1" />
<rect x="526.67" y="360.40" width="1.40" height="1.40" fill="#111" stroke="none" stroke-width="1" />
<rect x="536.07" y="370.69" width="1.40" height="1.40" fill="#111" stroke="none" stroke-width="1" />
<rect x="532.90" y="368.66" width="1.40" height="1.40" fill="#111" stroke="none" stroke-width="1" />
<rect x="537.02" y="356.40" width="1.40" height="1.40" fill="#111" stroke="none" stroke-width="1" />
<rect x="536.18" y="362.76" width="1.40" height="1.40" fill="#111" stroke="none" stroke-width="1" />
<rect x="533.24" y="265.50" width="1.40" height="1.40" fill="#111" stroke="none" stroke-width="1" />
<rect x="536.07" y="315.73" width="1.40" height="1.40" fill="#111" stroke="none" stroke-width="1" />
<rect x="534.65" y="369.02" width="1.40" height="1.40" fill="#111" stroke="none" stroke-width="1" />
<rect x="529.61" y="261.59" width="1.40" height="1.40" fill="#111" stroke="none" stroke-width="1" />
<rect x="529.01" y="302.58" width="1.40" height="1.40" fill="#111" stroke="none" stroke-width="1" />
<rect x="527.33" y="251.07" width="1.40" height="1.40" fill="#111" stroke="none" stroke-width="1" />
<rect x="526.15" y="286.25" width="1.40" height="1.40" fill="#111" stroke="none" stroke-width="1" />
<rect x="533.32" y="372.78" width="1.40" height="1.40" fill="#111" stroke="none" stroke-width="1" />
<rect x="531.59" y="373.52" width="1.40" height="1.40" fill="#111" stroke="none" stroke-width="1" />
<rect x="525.89" y="370.27" width="1.40" height="1.40" fill="#111" stroke="none" stroke-width="1" />
<rect x="528.78" y="374.29" width="1.40" height="1.40" fill="#111" stroke="none" stroke-width="1" />
<rect x="524.26" y="300.38" width="1.40" height="1.40" fill="#111" stroke="none" stroke-width="1" />
<rect x="530.62" y="277.14" width="1.40" height="1.40" fill="#111" stroke="none" stroke-width="1" />
<rect x="534.56" y="249.28" width="1.40" height="1.40" fill="#111" stroke="none" stroke-width="1" />
<rect x="522.80" y="374.21" width="1.40" height="1.40" fill="#111" stroke="none" stroke-width="1" />
<rect x="533.02" y="296.07" width="1.40" height="1.40" fill="#111" stroke="none" stroke-width="1" />
<rect x="525.52" y="331.92" width="1.40" height="1.40" fill="#111" stroke="none" stroke-width="1" />
<rect x="523.16" y="295.60" width="1.40" height="1.40" fill="#111" stroke="none" stroke-width="1" />
<rect x="523.20" y="294.28" width="1.40" height="1.40" fill="#111" stroke="none" stroke-width="1" />
<rect x="535.58" y="370.59" width="1.40" height="1.40" fill="#111" stroke="none" stroke-width="1" />
<rect x="531.85" y="292.58" width="1.40" height="1.40" fill="#111" stroke="none" stroke-width="1" />
<rect x="533.52" y="296.29" width="1.40" height="1.40" fill="#111" stroke="none" stroke-width="1" />
<rect x="522.22" y="364.90" width="1.40" height="1.40" fill="#111" stroke="none" stroke-width="1" />
<rect x="535.73" y="324.94" width="1.40" height="1.40" fill="#111" stroke="none" stroke-width="1" />
<rect x="525.45" y="362.58" width="1.40" height="1.40" fill="#111" stroke="none" stroke-width="1" />
<rect x="525.28" y="375.44" width="1.40" height="1.40" fill="#111" stroke="none" stroke-width="1" />
<rect x="523.39" y="261.66" width="1.40" height="1.40" fill="#111" stroke="none" stroke-width="1" />
<rect x="531.96" y="370.15" width="1.40" height="1.40" fill="#111" stroke="none" stroke-width="1" />
<rect x="529.57" y="253.10" width="1.40" height="1.40" fill="#111" stroke="none" stroke-width="1" />
<rect x="530.80" y="319.97" width="1.40" height="1.40" fill="#111" stroke="none" stroke-width="1" />
<rect x="526.22" y="298.07" width="1.40" height="1.40" fill="#111" stroke="none" stroke-width="1" />
<line x1="566.10" y1="250.00" x2="566.10" y2="377.00" stroke="#555" stroke-width="0.8" />
<rect x="552.60" y="265.50" width="27.00" height="72.75" fill="#80dde0" stroke="#444" stroke-width="0.7" />
<line x1="552.60" y1="286.75" x2="579.60" y2="286.75" stroke="#222" stroke-width="1.6" />
<line x1="566.10" y1="384.30" x2="566.10" y2="386.50" stroke="#333" stroke-width="0.9" />
<rect x="571.40" y="358.32" width="1.40" height="1.40" fill="#111" stroke="none" stroke-width="1" />
<rect x="564.19" y="312.99" width="1.40" height="1.40" fill="#111" stroke="none" stroke-width="1" />
<rect x="562.30" y="325.61" width="1.40" height="1.40" fill="#111" stroke="none" stroke-width="1" />
<rect x="563.26" y="253.32" width="1.40" height="1.40" fill="#111" stroke="none" stroke-width="1" />
<rect x="567.34" y="284.05" width="1.40" height="1.40" fill="#111" stroke="none" stroke-width="1" />
<rect x="559.65" y="334.36" width="1.40" height="1.40" fill="#111" stroke="none" stroke-width="1" />
<rect x="559.44" y="289.27" width="1.40" height="1.40" fill="#111" stroke="none" stroke-width="1" />
<rect x="566.64" y="326.23" width="1.40" height="1.40" fill="#111" stroke="none" stroke-width="1" />
<rect x="563.66" y="264.37" width="1.40" height="1.40" fill="#111" stroke="none" stroke-width="1" />
<rect x="561.81" y="317.47" width="1.40" height="1.40" fill="#111" stroke="none" stroke-width="1" />
<rect x="559.34" y="350.31" width="1.40" height="1.40" fill="#111" stroke="none" stroke-width="1" />
<rect x="564.06" y="260.41" width="1.40" height="1.40" fill="#111" stroke="none" stroke-width="1" />
<rect x="562.42" y="269.36" width="1.40" height="1.40" fill="#111" stroke="none" stroke-width="1" />
<rect x="569.76" y="263.92" width="1.40" height="1.40" fill="#111" stroke="none" stroke-width="1" />
<rect x="559.46" y="301.64" width="1.40" height="1.40" fill="#111" stroke="none" stroke-width="1" />
<rect x="558.30" y="346.32" width="1.40" height="1.40" fill="#111" stroke="none" stroke-width="1" />
<rect x="559.52" y="285.90" width="1.40" height="1.40" fill="#111" stroke="none" stroke-width="1" />
<rect x="572.09" y="332.69" width="1.40" height="1.40" fill="#111" stroke="none" stroke-width="1" />
<rect x="569.43" y="341.53" width="1.40" height="1.40" fill="#111" stroke="none" stroke-width="1" />
<rect x="559.16" y="257.63" width="1.40" height="1.40" fill="#111" stroke="none" stroke-width="1" />
<rect x="564.46" y="304.28" width="1.40" height="1.40" fill="#111" stroke="none" stroke-width="1" />
<rect x="572.49" y="358.90" width="1.40" height="1.40" fill="#111" stroke="none" stroke-width="1" />
<rect x="565.62" y="345.66" width="1.40" height="1.40" fill="#111" stroke="none" stroke-width="1" />
<rect x="567.41" y="292.57" width="1.40" height="1.40" fill="#111" stroke="none" stroke-width="1" />
<rect x="570.06" y="288.49" width="1.40" height="1.40" fill="#111" stroke="none" stroke-width="1" />
<rect x="558.70" y="274.95" width="1.40" height="1.40" fill="#111" stroke="none" stroke-width="1" />
<rect x="564.55" y="298.70" width="1.40" height="1.40" fill="#111" stroke="none" stroke-width="1" />
<rect x="565.40" y="306.56" width="1.40" height="1.40" fill="#111" stroke="none" stroke-width="1" />
<rect x="561.74" y="366.39" width="1.40" height="1.40" fill="#111" stroke="none" stroke-width="1" />
<rect x="566.97" y="366.94" width="1.40" height="1.40" fill="#111" stroke="none" stroke-width="1" />
<rect x="568.32" y="252.44" width="1.40" height="1.40" fill="#111" stroke="none" stroke-width="1" />
<rect x="572.86" y="272.27" width="1.40" height="1.40" fill="#111" stroke="none" stroke-width="1" />
<rect x="559.25" y="251.90" width="1.40" height="1.40" fill="#111" stroke="none" stroke-width="1" />
<rect x="570.76" y="361.56" width="1.40" height="1.40" fill="#111" stroke="none" stroke-width="1" />
<rect x="559.48" y="260.13" width="1.40" height="1.40" fill="#111" stroke="none" stroke-width="1" />
<rect x="563.24" y="283.12" width="1.40" height="1.40" fill="#111" stroke="none" stroke-width="1" />
<rect x="559.73" y="260.47" width="1.40" height="1.40" fill="#111" stroke="none" stroke-width="1" />
<rect x="566.78" y="289.28" width="1.40" height="1.40" fill="#111" stroke="none" stroke-width="1" />
<rect x="571.01" y="300.35" width="1.40" height="1.40" fill="#111" stroke="none" stroke-width="1" />
<rect x="562.91" y="285.32" width="1.40" height="1.40" fill="#111" stroke="none" stroke-width="1" />
<rect x="564.20" y="274.46" width="1.40" height="1.40" fill="#111" stroke="none" stroke-width="1" />
<rect x="559.82" y="375.38" width="1.40" height="1.40" fill="#111" stroke="none" stroke-width="1" />
<rect x="568.82" y="319.87" width="1.40" height="1.40" fill="#111" stroke="none" stroke-width="1" />
<rect x="562.59" y="263.93" width="1.40" height="1.40" fill="#111" stroke="none" stroke-width="1" />
<rect x="564.21" y="312.91" width="1.40" height="1.40" fill="#111" stroke="none" stroke-width="1" />
<rect x="563.00" y="313.96" width="1.40" height="1.40" fill="#111" stroke="none" stroke-width="1" />
<rect x="568.57" y="301.55" width="1.40" height="1.40" fill="#111" stroke="none" stroke-width="1" />
<rect x="560.29" y="322.71" width="1.40" height="1.40" fill="#111" stroke="none" stroke-width="1" />
<rect x="569.76" y="337.60" width="1.40" height="1.40" fill="#111" stroke="none" stroke-width="1" />
<rect x="558.55" y="325.70" width="1.40" height="1.40" fill="#111" stroke="none" stroke-width="1" />
<rect x="559.69" y="299.62" width="1.40" height="1.40" fill="#111" stroke="none" stroke-width="1" />
<rect x="570.69" y="264.40" width="1.40" height="1.40" fill="#111" stroke="none" stroke-width="1" />
<rect x="567.66" y="262.15" width="1.40" height="1.40" fill="#111" stroke="none" stroke-width="1" />
<rect x="561.34" y="362.53" width="1.40" height="1.40" fill="#111" stroke="none" stroke-width="1" />
<rect x="567.75" y="337.94" width="1.40" height="1.40" fill="#111" stroke="none" stroke-width="1" />
<rect x="565.46" y="318.88" width="1.40" height="1.40" fill="#111" stroke="none" stroke-width="1" />
<rect x="568.93" y="349.42" width="1.40" height="1.40" fill="#111" stroke="none" stroke-width="1" />
<rect x="569.26" y="360.67" width="1.40" height="1.40" fill="#111" stroke="none" stroke-width="1" />
<rect x="558.82" y="364.14" width="1.40" height="1.40" fill="#111" stroke="none" stroke-width="1" />
<rect x="560.11" y="370.12" width="1.40" height="1.40" fill="#111" stroke="none" stroke-width="1" />
<rect x="569.39" y="249.52" width="1.40" height="1.40" fill="#111" stroke="none" stroke-width="1" />
<rect x="564.48" y="256.40" width="1.40" height="1.40" fill="#111" stroke="none" stroke-width="1" />
<rect x="565.73" y="299.47" width="1.40" height="1.40" fill="#111" stroke="none" stroke-width="1" />
<rect x="569.41" y="261.63" width="1.40" height="1.40" fill="#111" stroke="none" stroke-width="1" />
<rect x="567.11" y="325.53" width="1.40" height="1.40" fill="#111" stroke="none" stroke-width="1" />
<rect x="567.16" y="326.71" width="1.40" height="1.40" fill="#111" stroke="none" stroke-width="1" />
<rect x="572.74" y="263.01" width="1.40" height="1.40" fill="#111" stroke="none" stroke-width="1" />
<rect x="563.00" y="250.32" width="1.40" height="1.40" fill="#111" stroke="none" stroke-width="1" />
<rect x="559.24" y="255.02" width="1.40" height="1.40" fill="#111" stroke="none" stroke-width="1" />
<rect x="564.33" y="249.35" width="1.40" height="1.40" fill="#111" stroke="none" stroke-width="1" />
<path d="M530.40,247 V243.2 H566.10 V247" fill="none" stroke="#444" stroke-width="0.7"/>
<text x="548.25" y="240.80" font-size="7.5" text-anchor="middle" font-weight="normal" fill="#222" stroke="#222" stroke-width="0.2" >0.00022</text>
<text transform="translate(537.70,386.90) rotate(-58)" font-size="13" text-anchor="end" fill="#000" stroke="#000" stroke-width="0.3" >CTRL</text>
<text transform="translate(570.50,391.00) rotate(-58)" font-size="13" text-anchor="end" fill="#000" stroke="#000" stroke-width="0.3" >FOXA2-OE</text>
<text x="646.50" y="230.00" font-size="13.5" text-anchor="middle" font-weight="normal" fill="#000" stroke="#000" stroke-width="0.3" >CRPC-WNT</text>
<line x1="604.50" y1="235.50" x2="604.50" y2="384.80" stroke="#333" stroke-width="1.1" />
<line x1="604.50" y1="384.30" x2="681.50" y2="384.30" stroke="#333" stroke-width="1.1" />
<line x1="602.30" y1="240.05" x2="604.50" y2="240.05" stroke="#333" stroke-width="0.9" />
<line x1="602.30" y1="276.65" x2="604.50" y2="276.65" stroke="#333" stroke-width="0.9" />
<line x1="602.30" y1="313.25" x2="604.50" y2="313.25" stroke="#333" stroke-width="0.9" />
<line x1="602.30" y1="349.85" x2="604.50" y2="349.85" stroke="#333" stroke-width="0.9" />
<line x1="626.10" y1="251.25" x2="626.10" y2="376.25" stroke="#555" stroke-width="0.8" />
<rect x="612.60" y="299.50" width="27.00" height="50.75" fill="#f9b4ae" stroke="#444" stroke-width="0.7" />
<line x1="612.60" y1="331.50" x2="639.60" y2="331.50" stroke="#222" stroke-width="1.6" />
<line x1="626.10" y1="384.30" x2="626.10" y2="386.50" stroke="#333" stroke-width="0.9" />
<rect x="623.73" y="368.50" width="1.40" height="1.40" fill="#111" stroke="none" stroke-width="1" />
<rect x="631.32" y="296.55" width="1.40" height="1.40" fill="#111" stroke="none" stroke-width="1" />
<rect x="623.94" y="309.81" width="1.40" height="1.40" fill="#111" stroke="none" stroke-width="1" />
<rect x="618.29" y="360.18" width="1.40" height="1.40" fill="#111" stroke="none" stroke-width="1" />
<rect x="628.30" y="369.51" width="1.40" height="1.40" fill="#111" stroke="none" stroke-width="1" />
<rect x="629.34" y="333.46" width="1.40" height="1.40" fill="#111" stroke="none" stroke-width="1" />
<rect x="629.80" y="345.35" width="1.40" height="1.40" fill="#111" stroke="none" stroke-width="1" />
<rect x="627.77" y="366.70" width="1.40" height="1.40" fill="#111" stroke="none" stroke-width="1" />
<rect x="624.55" y="335.02" width="1.40" height="1.40" fill="#111" stroke="none" stroke-width="1" />
<rect x="621.66" y="266.35" width="1.40" height="1.40" fill="#111" stroke="none" stroke-width="1" />
<rect x="620.78" y="337.85" width="1.40" height="1.40" fill="#111" stroke="none" stroke-width="1" />
<rect x="623.38" y="341.44" width="1.40" height="1.40" fill="#111" stroke="none" stroke-width="1" />
<rect x="623.34" y="279.77" width="1.40" height="1.40" fill="#111" stroke="none" stroke-width="1" />
<rect x="618.00" y="264.45" width="1.40" height="1.40" fill="#111" stroke="none" stroke-width="1" />
<rect x="619.47" y="271.07" width="1.40" height="1.40" fill="#111" stroke="none" stroke-width="1" />
<rect x="632.27" y="277.09" width="1.40" height="1.40" fill="#111" stroke="none" stroke-width="1" />
<rect x="631.77" y="315.35" width="1.40" height="1.40" fill="#111" stroke="none" stroke-width="1" />
<rect x="618.00" y="257.81" width="1.40" height="1.40" fill="#111" stroke="none" stroke-width="1" />
<rect x="629.25" y="279.59" width="1.40" height="1.40" fill="#111" stroke="none" stroke-width="1" />
<rect x="624.67" y="370.44" width="1.40" height="1.40" fill="#111" stroke="none" stroke-width="1" />
<rect x="625.95" y="329.66" width="1.40" height="1.40" fill="#111" stroke="none" stroke-width="1" />
<rect x="624.50" y="271.13" width="1.40" height="1.40" fill="#111" stroke="none" stroke-width="1" />
<rect x="622.32" y="310.45" width="1.40" height="1.40" fill="#111" stroke="none" stroke-width="1" />
<rect x="625.95" y="302.40" width="1.40" height="1.40" fill="#111" stroke="none" stroke-width="1" />
<rect x="626.82" y="282.64" width="1.40" height="1.40" fill="#111" stroke="none" stroke-width="1" />
<rect x="624.01" y="285.78" width="1.40" height="1.40" fill="#111" stroke="none" stroke-width="1" />
<rect x="629.58" y="371.82" width="1.40" height="1.40" fill="#111" stroke="none" stroke-width="1" />
<rect x="619.75" y="367.17" width="1.40" height="1.40" fill="#111" stroke="none" stroke-width="1" />
<rect x="627.51" y="302.99" width="1.40" height="1.40" fill="#111" stroke="none" stroke-width="1" />
<rect x="618.51" y="331.09" width="1.40" height="1.40" fill="#111" stroke="none" stroke-width="1" />
<rect x="624.55" y="322.63" width="1.40" height="1.40" fill="#111" stroke="none" stroke-width="1" />
<rect x="624.64" y="263.97" width="1.40" height="1.40" fill="#111" stroke="none" stroke-width="1" />
<rect x="621.55" y="283.09" width="1.40" height="1.40" fill="#111" stroke="none" stroke-width="1" />
<rect x="622.44" y="351.91" width="1.40" height="1.40" fill="#111" stroke="none" stroke-width="1" />
<rect x="619.34" y="313.61" width="1.40" height="1.40" fill="#111" stroke="none" stroke-width="1" />
<rect x="619.22" y="374.12" width="1.40" height="1.40" fill="#111" stroke="none" stroke-width="1" />
<rect x="628.13" y="354.98" width="1.40" height="1.40" fill="#111" stroke="none" stroke-width="1" />
<rect x="630.83" y="352.11" width="1.40" height="1.40" fill="#111" stroke="none" stroke-width="1" />
<rect x="624.69" y="367.39" width="1.40" height="1.40" fill="#111" stroke="none" stroke-width="1" />
<rect x="621.32" y="301.75" width="1.40" height="1.40" fill="#111" stroke="none" stroke-width="1" />
<rect x="630.23" y="356.42" width="1.40" height="1.40" fill="#111" stroke="none" stroke-width="1" />
<rect x="625.50" y="316.40" width="1.40" height="1.40" fill="#111" stroke="none" stroke-width="1" />
<rect x="624.67" y="327.71" width="1.40" height="1.40" fill="#111" stroke="none" stroke-width="1" />
<rect x="623.98" y="330.02" width="1.40" height="1.40" fill="#111" stroke="none" stroke-width="1" />
<rect x="624.49" y="352.97" width="1.40" height="1.40" fill="#111" stroke="none" stroke-width="1" />
<rect x="623.38" y="314.33" width="1.40" height="1.40" fill="#111" stroke="none" stroke-width="1" />
<rect x="620.53" y="328.77" width="1.40" height="1.40" fill="#111" stroke="none" stroke-width="1" />
<rect x="618.52" y="368.63" width="1.40" height="1.40" fill="#111" stroke="none" stroke-width="1" />
<rect x="631.48" y="287.00" width="1.40" height="1.40" fill="#111" stroke="none" stroke-width="1" />
<rect x="627.30" y="254.48" width="1.40" height="1.40" fill="#111" stroke="none" stroke-width="1" />
<rect x="618.41" y="366.62" width="1.40" height="1.40" fill="#111" stroke="none" stroke-width="1" />
<rect x="622.88" y="353.75" width="1.40" height="1.40" fill="#111" stroke="none" stroke-width="1" />
<rect x="630.70" y="324.69" width="1.40" height="1.40" fill="#111" stroke="none" stroke-width="1" />
<rect x="630.61" y="330.23" width="1.40" height="1.40" fill="#111" stroke="none" stroke-width="1" />
<rect x="622.69" y="273.44" width="1.40" height="1.40" fill="#111" stroke="none" stroke-width="1" />
<rect x="631.18" y="304.45" width="1.40" height="1.40" fill="#111" stroke="none" stroke-width="1" />
<rect x="632.04" y="369.93" width="1.40" height="1.40" fill="#111" stroke="none" stroke-width="1" />
<rect x="630.75" y="318.60" width="1.40" height="1.40" fill="#111" stroke="none" stroke-width="1" />
<rect x="629.11" y="305.41" width="1.40" height="1.40" fill="#111" stroke="none" stroke-width="1" />
<rect x="622.07" y="322.03" width="1.40" height="1.40" fill="#111" stroke="none" stroke-width="1" />
<rect x="631.88" y="270.41" width="1.40" height="1.40" fill="#111" stroke="none" stroke-width="1" />
<rect x="627.19" y="356.19" width="1.40" height="1.40" fill="#111" stroke="none" stroke-width="1" />
<rect x="624.72" y="365.50" width="1.40" height="1.40" fill="#111" stroke="none" stroke-width="1" />
<rect x="630.18" y="350.47" width="1.40" height="1.40" fill="#111" stroke="none" stroke-width="1" />
<rect x="625.39" y="311.17" width="1.40" height="1.40" fill="#111" stroke="none" stroke-width="1" />
<rect x="631.41" y="324.36" width="1.40" height="1.40" fill="#111" stroke="none" stroke-width="1" />
<rect x="622.98" y="314.35" width="1.40" height="1.40" fill="#111" stroke="none" stroke-width="1" />
<rect x="631.91" y="307.04" width="1.40" height="1.40" fill="#111" stroke="none" stroke-width="1" />
<rect x="622.00" y="274.65" width="1.40" height="1.40" fill="#111" stroke="none" stroke-width="1" />
<rect x="621.26" y="301.11" width="1.40" height="1.40" fill="#111" stroke="none" stroke-width="1" />
<line x1="661.40" y1="248.75" x2="661.40" y2="373.75" stroke="#555" stroke-width="0.8" />
<rect x="647.90" y="274.50" width="27.00" height="50.75" fill="#80dde0" stroke="#444" stroke-width="0.7" />
<line x1="647.90" y1="293.25" x2="674.90" y2="293.25" stroke="#222" stroke-width="1.6" />
<line x1="661.40" y1="384.30" x2="661.40" y2="386.50" stroke="#333" stroke-width="0.9" />
<rect x="656.52" y="313.79" width="1.40" height="1.40" fill="#111" stroke="none" stroke-width="1" />
<rect x="655.03" y="326.12" width="1.40" height="1.40" fill="#111" stroke="none" stroke-width="1" />
<rect x="657.88" y="273.40" width="1.40" height="1.40" fill="#111" stroke="none" stroke-width="1" />
<rect x="654.85" y="249.73" width="1.40" height="1.40" fill="#111" stroke="none" stroke-width="1" />
<rect x="667.01" y="311.36" width="1.40" height="1.40" fill="#111" stroke="none" stroke-width="1" />
<rect x="657.03" y="313.52" width="1.40" height="1.40" fill="#111" stroke="none" stroke-width="1" />
<rect x="654.18" y="255.00" width="1.40" height="1.40" fill="#111" stroke="none" stroke-width="1" />
<rect x="660.57" y="266.59" width="1.40" height="1.40" fill="#111" stroke="none" stroke-width="1" />
<rect x="665.94" y="255.90" width="1.40" height="1.40" fill="#111" stroke="none" stroke-width="1" />
<rect x="664.17" y="310.82" width="1.40" height="1.40" fill="#111" stroke="none" stroke-width="1" />
<rect x="658.95" y="302.08" width="1.40" height="1.40" fill="#111" stroke="none" stroke-width="1" />
<rect x="653.75" y="288.13" width="1.40" height="1.40" fill="#111" stroke="none" stroke-width="1" />
<rect x="655.00" y="346.74" width="1.40" height="1.40" fill="#111" stroke="none" stroke-width="1" />
<rect x="658.72" y="254.42" width="1.40" height="1.40" fill="#111" stroke="none" stroke-width="1" />
<rect x="665.75" y="298.51" width="1.40" height="1.40" fill="#111" stroke="none" stroke-width="1" />
<rect x="658.03" y="303.86" width="1.40" height="1.40" fill="#111" stroke="none" stroke-width="1" />
<rect x="662.71" y="339.93" width="1.40" height="1.40" fill="#111" stroke="none" stroke-width="1" />
<rect x="657.63" y="313.92" width="1.40" height="1.40" fill="#111" stroke="none" stroke-width="1" />
<rect x="661.97" y="248.28" width="1.40" height="1.40" fill="#111" stroke="none" stroke-width="1" />
<rect x="657.73" y="248.19" width="1.40" height="1.40" fill="#111" stroke="none" stroke-width="1" />
<rect x="663.17" y="253.34" width="1.40" height="1.40" fill="#111" stroke="none" stroke-width="1" />
<rect x="664.16" y="288.10" width="1.40" height="1.40" fill="#111" stroke="none" stroke-width="1" />
<rect x="654.98" y="271.77" width="1.40" height="1.40" fill="#111" stroke="none" stroke-width="1" />
<rect x="664.19" y="309.57" width="1.40" height="1.40" fill="#111" stroke="none" stroke-width="1" />
<rect x="662.64" y="366.82" width="1.40" height="1.40" fill="#111" stroke="none" stroke-width="1" />
<rect x="656.00" y="277.81" width="1.40" height="1.40" fill="#111" stroke="none" stroke-width="1" />
<rect x="654.63" y="350.99" width="1.40" height="1.40" fill="#111" stroke="none" stroke-width="1" />
<rect x="660.33" y="291.39" width="1.40" height="1.40" fill="#111" stroke="none" stroke-width="1" />
<rect x="657.73" y="316.37" width="1.40" height="1.40" fill="#111" stroke="none" stroke-width="1" />
<rect x="663.03" y="304.53" width="1.40" height="1.40" fill="#111" stroke="none" stroke-width="1" />
<rect x="660.26" y="338.09" width="1.40" height="1.40" fill="#111" stroke="none" stroke-width="1" />
<rect x="655.21" y="306.52" width="1.40" height="1.40" fill="#111" stroke="none" stroke-width="1" />
<rect x="656.12" y="351.72" width="1.40" height="1.40" fill="#111" stroke="none" stroke-width="1" />
<rect x="653.51" y="271.97" width="1.40" height="1.40" fill="#111" stroke="none" stroke-width="1" />
<rect x="653.67" y="338.84" width="1.40" height="1.40" fill="#111" stroke="none" stroke-width="1" />
<rect x="659.20" y="332.38" width="1.40" height="1.40" fill="#111" stroke="none" stroke-width="1" />
<rect x="658.48" y="277.83" width="1.40" height="1.40" fill="#111" stroke="none" stroke-width="1" />
<rect x="653.51" y="305.51" width="1.40" height="1.40" fill="#111" stroke="none" stroke-width="1" />
<rect x="666.62" y="255.29" width="1.40" height="1.40" fill="#111" stroke="none" stroke-width="1" />
<rect x="660.40" y="337.04" width="1.40" height="1.40" fill="#111" stroke="none" stroke-width="1" />
<rect x="663.21" y="331.80" width="1.40" height="1.40" fill="#111" stroke="none" stroke-width="1" />
<rect x="661.26" y="298.02" width="1.40" height="1.40" fill="#111" stroke="none" stroke-width="1" />
<rect x="662.39" y="322.33" width="1.40" height="1.40" fill="#111" stroke="none" stroke-width="1" />
<rect x="663.13" y="261.06" width="1.40" height="1.40" fill="#111" stroke="none" stroke-width="1" />
<rect x="658.72" y="357.74" width="1.40" height="1.40" fill="#111" stroke="none" stroke-width="1" />
<rect x="663.25" y="304.97" width="1.40" height="1.40" fill="#111" stroke="none" stroke-width="1" />
<rect x="663.84" y="309.72" width="1.40" height="1.40" fill="#111" stroke="none" stroke-width="1" />
<rect x="662.41" y="285.50" width="1.40" height="1.40" fill="#111" stroke="none" stroke-width="1" />
<rect x="664.51" y="276.90" width="1.40" height="1.40" fill="#111" stroke="none" stroke-width="1" />
<rect x="661.06" y="260.72" width="1.40" height="1.40" fill="#111" stroke="none" stroke-width="1" />
<rect x="660.22" y="312.64" width="1.40" height="1.40" fill="#111" stroke="none" stroke-width="1" />
<rect x="661.70" y="296.28" width="1.40" height="1.40" fill="#111" stroke="none" stroke-width="1" />
<rect x="663.91" y="290.23" width="1.40" height="1.40" fill="#111" stroke="none" stroke-width="1" />
<rect x="664.86" y="278.09" width="1.40" height="1.40" fill="#111" stroke="none" stroke-width="1" />
<rect x="665.04" y="301.19" width="1.40" height="1.40" fill="#111" stroke="none" stroke-width="1" />
<rect x="660.50" y="281.24" width="1.40" height="1.40" fill="#111" stroke="none" stroke-width="1" />
<rect x="667.58" y="309.27" width="1.40" height="1.40" fill="#111" stroke="none" stroke-width="1" />
<rect x="654.17" y="315.84" width="1.40" height="1.40" fill="#111" stroke="none" stroke-width="1" />
<rect x="667.39" y="368.85" width="1.40" height="1.40" fill="#111" stroke="none" stroke-width="1" />
<rect x="664.75" y="290.73" width="1.40" height="1.40" fill="#111" stroke="none" stroke-width="1" />
<rect x="662.76" y="307.67" width="1.40" height="1.40" fill="#111" stroke="none" stroke-width="1" />
<rect x="667.76" y="310.05" width="1.40" height="1.40" fill="#111" stroke="none" stroke-width="1" />
<rect x="663.06" y="348.49" width="1.40" height="1.40" fill="#111" stroke="none" stroke-width="1" />
<rect x="667.59" y="276.29" width="1.40" height="1.40" fill="#111" stroke="none" stroke-width="1" />
<rect x="653.84" y="348.78" width="1.40" height="1.40" fill="#111" stroke="none" stroke-width="1" />
<rect x="657.36" y="271.96" width="1.40" height="1.40" fill="#111" stroke="none" stroke-width="1" />
<rect x="656.82" y="363.93" width="1.40" height="1.40" fill="#111" stroke="none" stroke-width="1" />
<rect x="666.65" y="302.64" width="1.40" height="1.40" fill="#111" stroke="none" stroke-width="1" />
<rect x="657.09" y="340.49" width="1.40" height="1.40" fill="#111" stroke="none" stroke-width="1" />
<rect x="654.99" y="324.56" width="1.40" height="1.40" fill="#111" stroke="none" stroke-width="1" />
<path d="M626.10,247 V243.2 H661.40 V247" fill="none" stroke="#444" stroke-width="0.7"/>
<text x="643.75" y="240.80" font-size="7.5" text-anchor="middle" font-weight="normal" fill="#222" stroke="#222" stroke-width="0.2" >0.0016</text>
<text transform="translate(633.40,386.90) rotate(-58)" font-size="13" text-anchor="end" fill="#000" stroke="#000" stroke-width="0.3" >CTRL</text>
<text transform="translate(665.80,391.00) rotate(-58)" font-size="13" text-anchor="end" fill="#000" stroke="#000" stroke-width="0.3" >FOXA2-OE</text>
<text x="317.60" y="243.95" font-size="13.5" text-anchor="end" font-weight="normal" fill="#000" stroke="#000" stroke-width="0.3" transform="translate(0,-19.52) scale(1,1.08)">1.0</text>
<text x="317.60" y="280.55" font-size="13.5" text-anchor="end" font-weight="normal" fill="#000" stroke="#000" stroke-width="0.3" transform="translate(0,-22.44) scale(1,1.08)">0.5</text>
<text x="317.60" y="317.15" font-size="13.5" text-anchor="end" font-weight="normal" fill="#000" stroke="#000" stroke-width="0.3" transform="translate(0,-25.37) scale(1,1.08)">0.0</text>
<text x="317.60" y="353.75" font-size="13.5" text-anchor="end" font-weight="normal" fill="#000" stroke="#000" stroke-width="0.3" transform="translate(0,-28.30) scale(1,1.08)">-0.5</text>
<text transform="translate(288.2,298.5) rotate(-90) scale(1,1.1)" font-size="13.5" text-anchor="middle">Log<tspan font-size="9" dy="3">2</tspan><tspan dy="-3">(CPM)_scaled</tspan></text>
<text x="3.20" y="410.00" font-size="19.3" text-anchor="start" font-weight="bold" fill="#000" stroke="#000" stroke-width="0" >f</text>
<text x="88.20" y="423.10" font-size="13.3" text-anchor="start" font-weight="normal" fill="#000" stroke="#000" stroke-width="0.3" >LNCaP-FOXA2-OE</text>
<line x1="88.20" y1="424.70" x2="201.80" y2="424.70" stroke="#111" stroke-width="1" />
<rect x="175.60" y="432.80" width="19.00" height="401.80" fill="#fff" stroke="none" stroke-width="1" />
<line x1="175.60" y1="441.20" x2="194.60" y2="441.20" stroke="#ebebeb" stroke-width="0.5" />
<line x1="175.60" y1="455.00" x2="194.60" y2="455.00" stroke="#ebebeb" stroke-width="0.5" />
<line x1="175.60" y1="468.80" x2="194.60" y2="468.80" stroke="#ebebeb" stroke-width="0.5" />
<line x1="175.60" y1="482.60" x2="194.60" y2="482.60" stroke="#ebebeb" stroke-width="0.5" />
<line x1="175.60" y1="496.40" x2="194.60" y2="496.40" stroke="#ebebeb" stroke-width="0.5" />
<line x1="175.60" y1="510.20" x2="194.60" y2="510.20" stroke="#ebebeb" stroke-width="0.5" />
<line x1="175.60" y1="524.00" x2="194.60" y2="524.00" stroke="#ebebeb" stroke-width="0.5" />
<line x1="175.60" y1="537.80" x2="194.60" y2="537.80" stroke="#ebebeb" stroke-width="0.5" />
<line x1="175.60" y1="551.60" x2="194.60" y2="551.60" stroke="#ebebeb" stroke-width="0.5" />
<line x1="175.60" y1="565.40" x2="194.60" y2="565.40" stroke="#ebebeb" stroke-width="0.5" />
<line x1="175.60" y1="579.20" x2="194.60" y2="579.20" stroke="#ebebeb" stroke-width="0.5" />
<line x1="175.60" y1="593.00" x2="194.60" y2="593.00" stroke="#ebebeb" stroke-width="0.5" />
<line x1="175.60" y1="606.80" x2="194.60" y2="606.80" stroke="#ebebeb" stroke-width="0.5" />
<line x1="175.60" y1="620.60" x2="194.60" y2="620.60" stroke="#ebebeb" stroke-width="0.5" />
<line x1="175.60" y1="634.40" x2="194.60" y2="634.40" stroke="#ebebeb" stroke-width="0.5" />
<line x1="175.60" y1="648.20" x2="194.60" y2="648.20" stroke="#ebebeb" stroke-width="0.5" />
<line x1="175.60" y1="662.00" x2="194.60" y2="662.00" stroke="#ebebeb" stroke-width="0.5" />
<line x1="175.60" y1="675.80" x2="194.60" y2="675.80" stroke="#ebebeb" stroke-width="0.5" />
<line x1="175.60" y1="689.60" x2="194.60" y2="689.60" stroke="#ebebeb" stroke-width="0.5" />
<line x1="175.60" y1="703.40" x2="194.60" y2="703.40" stroke="#ebebeb" stroke-width="0.5" />
<line x1="175.60" y1="717.20" x2="194.60" y2="717.20" stroke="#ebebeb" stroke-width="0.5" />
<line x1="175.60" y1="731.00" x2="194.60" y2="731.00" stroke="#ebebeb" stroke-width="0.5" />
<line x1="175.60" y1="744.80" x2="194.60" y2="744.80" stroke="#ebebeb" stroke-width="0.5" />
<line x1="175.60" y1="758.60" x2="194.60" y2="758.60" stroke="#ebebeb" stroke-width="0.5" />
<line x1="175.60" y1="772.40" x2="194.60" y2="772.40" stroke="#ebebeb" stroke-width="0.5" />
<line x1="175.60" y1="786.20" x2="194.60" y2="786.20" stroke="#ebebeb" stroke-width="0.5" />
<line x1="175.60" y1="800.00" x2="194.60" y2="800.00" stroke="#ebebeb" stroke-width="0.5" />
<line x1="175.60" y1="813.80" x2="194.60" y2="813.80" stroke="#ebebeb" stroke-width="0.5" />
<line x1="175.60" y1="827.60" x2="194.60" y2="827.60" stroke="#ebebeb" stroke-width="0.5" />
<line x1="184.90" y1="432.80" x2="184.90" y2="834.60" stroke="#ebebeb" stroke-width="0.5" />
<text x="170.00" y="444.40" font-size="8.85" text-anchor="end" font-weight="normal" fill="#474747" stroke="#474747" stroke-width="0.2" >HALLMARK_G2M_CHECKPOINT</text>
<line x1="172.80" y1="441.20" x2="175.60" y2="441.20" stroke="#333" stroke-width="0.8" />
<circle cx="184.90" cy="441.20" r="6.90" fill="#f4505a" />
<text x="170.00" y="458.20" font-size="8.85" text-anchor="end" font-weight="normal" fill="#474747" stroke="#474747" stroke-width="0.2" >PID_PLK1_PATHWAY</text>
<line x1="172.80" y1="455.00" x2="175.60" y2="455.00" stroke="#333" stroke-width="0.8" />
<circle cx="184.90" cy="455.00" r="6.90" fill="#f5535a" />
<text x="170.00" y="472.00" font-size="8.85" text-anchor="end" font-weight="normal" fill="#474747" stroke="#474747" stroke-width="0.2" >PID_HEDGEHOG_GLI_PATHWAY</text>
<line x1="172.80" y1="468.80" x2="175.60" y2="468.80" stroke="#333" stroke-width="0.8" />
<circle cx="184.90" cy="468.80" r="6.90" fill="#f4515a" />
<text x="170.00" y="485.80" font-size="8.85" text-anchor="end" font-weight="normal" fill="#474747" stroke="#474747" stroke-width="0.2" >HALLMARK_MYC_TARGETS_V1</text>
<line x1="172.80" y1="482.60" x2="175.60" y2="482.60" stroke="#333" stroke-width="0.8" />
<circle cx="184.90" cy="482.60" r="6.90" fill="#f7836f" />
<text x="170.00" y="499.60" font-size="8.85" text-anchor="end" font-weight="normal" fill="#474747" stroke="#474747" stroke-width="0.2" >HALLMARK_E2F_TARGETS</text>
<line x1="172.80" y1="496.40" x2="175.60" y2="496.40" stroke="#333" stroke-width="0.8" />
<circle cx="184.90" cy="496.40" r="6.90" fill="#f2324a" />
<text x="170.00" y="513.40" font-size="8.85" text-anchor="end" font-weight="normal" fill="#474747" stroke="#474747" stroke-width="0.2" >PID_HNF3B_PATHWAY</text>
<line x1="172.80" y1="510.20" x2="175.60" y2="510.20" stroke="#333" stroke-width="0.8" />
<circle cx="184.90" cy="510.20" r="6.00" fill="#f66a60" />
<text x="170.00" y="527.20" font-size="8.85" text-anchor="end" font-weight="normal" fill="#474747" stroke="#474747" stroke-width="0.2" >PID_ARF_3PATHWAY</text>
<line x1="172.80" y1="524.00" x2="175.60" y2="524.00" stroke="#333" stroke-width="0.8" />
<circle cx="184.90" cy="524.00" r="6.00" fill="#f66d62" />
<text x="170.00" y="541.00" font-size="8.85" text-anchor="end" font-weight="normal" fill="#474747" stroke="#474747" stroke-width="0.2" >PID_FOXM1_PATHWAY</text>
<line x1="172.80" y1="537.80" x2="175.60" y2="537.80" stroke="#333" stroke-width="0.8" />
<circle cx="184.90" cy="537.80" r="5.90" fill="#f66a60" />
<text x="170.00" y="554.80" font-size="8.85" text-anchor="end" font-weight="normal" fill="#474747" stroke="#474747" stroke-width="0.2" >HALLMARK_PANCREAS_BETA_CELLS</text>
<line x1="172.80" y1="551.60" x2="175.60" y2="551.60" stroke="#333" stroke-width="0.8" />
<circle cx="184.90" cy="551.60" r="6.00" fill="#f66c60" />
<text x="170.00" y="568.60" font-size="8.85" text-anchor="end" font-weight="normal" fill="#474747" stroke="#474747" stroke-width="0.2" >PID_FANCONI_PATHWAY</text>
<line x1="172.80" y1="565.40" x2="175.60" y2="565.40" stroke="#333" stroke-width="0.8" />
<circle cx="184.90" cy="565.40" r="5.25" fill="#f6705f" />
<text x="170.00" y="582.40" font-size="8.85" text-anchor="end" font-weight="normal" fill="#474747" stroke="#474747" stroke-width="0.2" >PID_AURORA_A_PATHWAY</text>
<line x1="172.80" y1="579.20" x2="175.60" y2="579.20" stroke="#333" stroke-width="0.8" />
<circle cx="184.90" cy="579.20" r="5.00" fill="#f6705f" />
<text x="170.00" y="596.20" font-size="8.85" text-anchor="end" font-weight="normal" fill="#474747" stroke="#474747" stroke-width="0.2" >PID_HNF3A_PATHWAY</text>
<line x1="172.80" y1="593.00" x2="175.60" y2="593.00" stroke="#333" stroke-width="0.8" />
<circle cx="184.90" cy="593.00" r="4.75" fill="#f67262" />
<text x="170.00" y="610.00" font-size="8.85" text-anchor="end" font-weight="normal" fill="#474747" stroke="#474747" stroke-width="0.2" >PID_S1P_S1P1_PATHWAY</text>
<line x1="172.80" y1="606.80" x2="175.60" y2="606.80" stroke="#333" stroke-width="0.8" />
<circle cx="184.90" cy="606.80" r="4.75" fill="#f67060" />
<text x="170.00" y="623.80" font-size="8.85" text-anchor="end" font-weight="normal" fill="#474747" stroke="#474747" stroke-width="0.2" >PID_ATR_PATHWAY</text>
<line x1="172.80" y1="620.60" x2="175.60" y2="620.60" stroke="#333" stroke-width="0.8" />
<circle cx="184.90" cy="620.60" r="4.50" fill="#f67262" />
<text x="170.00" y="637.60" font-size="8.85" text-anchor="end" font-weight="normal" fill="#474747" stroke="#474747" stroke-width="0.2" >PID_BARD1_PATHWAY</text>
<line x1="172.80" y1="634.40" x2="175.60" y2="634.40" stroke="#333" stroke-width="0.8" />
<circle cx="184.90" cy="634.40" r="4.10" fill="#f67262" />
<text x="170.00" y="651.40" font-size="8.85" text-anchor="end" font-weight="normal" fill="#474747" stroke="#474747" stroke-width="0.2" >PID_NOTCH_PATHWAY</text>
<line x1="172.80" y1="648.20" x2="175.60" y2="648.20" stroke="#333" stroke-width="0.8" />
<circle cx="184.90" cy="648.20" r="4.00" fill="#f67262" />
<text x="170.00" y="665.20" font-size="8.85" text-anchor="end" font-weight="normal" fill="#474747" stroke="#474747" stroke-width="0.2" >PID_ER_NONGENOMIC_PATHWAY</text>
<line x1="172.80" y1="662.00" x2="175.60" y2="662.00" stroke="#333" stroke-width="0.8" />
<circle cx="184.90" cy="662.00" r="3.75" fill="#f67464" />
<text x="170.00" y="679.00" font-size="8.85" text-anchor="end" font-weight="normal" fill="#474747" stroke="#474747" stroke-width="0.2" >PID_SMAD2_3PATHWAY</text>
<line x1="172.80" y1="675.80" x2="175.60" y2="675.80" stroke="#333" stroke-width="0.8" />
<circle cx="184.90" cy="675.80" r="3.60" fill="#f67464" />
<text x="170.00" y="692.80" font-size="8.85" text-anchor="end" font-weight="normal" fill="#474747" stroke="#474747" stroke-width="0.2" >PID_GLYPICAN_1PATHWAY</text>
<line x1="172.80" y1="689.60" x2="175.60" y2="689.60" stroke="#333" stroke-width="0.8" />
<circle cx="184.90" cy="689.60" r="3.25" fill="#f67565" />
<text x="170.00" y="706.60" font-size="8.85" text-anchor="end" font-weight="normal" fill="#474747" stroke="#474747" stroke-width="0.2" >PID_AURORA_B_PATHWAY</text>
<line x1="172.80" y1="703.40" x2="175.60" y2="703.40" stroke="#333" stroke-width="0.8" />
<circle cx="184.90" cy="703.40" r="3.25" fill="#f67565" />
<text x="170.00" y="720.40" font-size="8.85" text-anchor="end" font-weight="normal" fill="#474747" stroke="#474747" stroke-width="0.2" >PID_IL8_CXCR1_PATHWAY</text>
<line x1="172.80" y1="717.20" x2="175.60" y2="717.20" stroke="#333" stroke-width="0.8" />
<circle cx="184.90" cy="717.20" r="3.10" fill="#f67565" />
<text x="170.00" y="734.20" font-size="8.85" text-anchor="end" font-weight="normal" fill="#474747" stroke="#474747" stroke-width="0.2" >PID_E2F_PATHWAY</text>
<line x1="172.80" y1="731.00" x2="175.60" y2="731.00" stroke="#333" stroke-width="0.8" />
<circle cx="184.90" cy="731.00" r="3.10" fill="#f67767" />
<text x="170.00" y="748.00" font-size="8.85" text-anchor="end" font-weight="normal" fill="#474747" stroke="#474747" stroke-width="0.2" >PID_WNT_CANONICAL_PATHWAY</text>
<line x1="172.80" y1="744.80" x2="175.60" y2="744.80" stroke="#333" stroke-width="0.8" />
<circle cx="184.90" cy="744.80" r="2.90" fill="#f67565" />
<text x="170.00" y="761.80" font-size="8.85" text-anchor="end" font-weight="normal" fill="#474747" stroke="#474747" stroke-width="0.2" >PID_FOXO_PATHWAY</text>
<line x1="172.80" y1="758.60" x2="175.60" y2="758.60" stroke="#333" stroke-width="0.8" />
<circle cx="184.90" cy="758.60" r="2.70" fill="#f67767" />
<text x="170.00" y="775.60" font-size="8.85" text-anchor="end" font-weight="normal" fill="#474747" stroke="#474747" stroke-width="0.2" >PID_IL8_CXCR2_PATHWAY</text>
<line x1="172.80" y1="772.40" x2="175.60" y2="772.40" stroke="#333" stroke-width="0.8" />
<circle cx="184.90" cy="772.40" r="2.50" fill="#f67767" />
<text x="170.00" y="789.40" font-size="8.85" text-anchor="end" font-weight="normal" fill="#474747" stroke="#474747" stroke-width="0.2" >HALLMARK_MITOTIC_SPINDLE</text>
<line x1="172.80" y1="786.20" x2="175.60" y2="786.20" stroke="#333" stroke-width="0.8" />
<circle cx="184.90" cy="786.20" r="2.40" fill="#f7907e" />
<text x="170.00" y="803.20" font-size="8.85" text-anchor="end" font-weight="normal" fill="#474747" stroke="#474747" stroke-width="0.2" >PID_AJDISS_2PATHWAY</text>
<line x1="172.80" y1="800.00" x2="175.60" y2="800.00" stroke="#333" stroke-width="0.8" />
<circle cx="184.90" cy="800.00" r="2.20" fill="#f67767" />
<text x="170.00" y="817.00" font-size="8.85" text-anchor="end" font-weight="normal" fill="#474747" stroke="#474747" stroke-width="0.2" >PID_BETA_CATENIN_DEG_PATHWAY</text>
<line x1="172.80" y1="813.80" x2="175.60" y2="813.80" stroke="#333" stroke-width="0.8" />
<circle cx="184.90" cy="813.80" r="1.70" fill="#f67767" />
<text x="170.00" y="830.80" font-size="8.85" text-anchor="end" font-weight="normal" fill="#474747" stroke="#474747" stroke-width="0.2" >PID_ALPHA_SYNUCLEIN_PATHWAY</text>
<line x1="172.80" y1="827.60" x2="175.60" y2="827.60" stroke="#333" stroke-width="0.8" />
<circle cx="184.90" cy="827.60" r="1.40" fill="#f67767" />
<rect x="175.60" y="432.80" width="19.00" height="401.80" fill="none" stroke="#333" stroke-width="0.8" />
<line x1="184.90" y1="834.60" x2="184.90" y2="837.20" stroke="#333" stroke-width="0.8" />
<text x="211.00" y="547.80" font-size="11" text-anchor="start" font-weight="normal" fill="#111" stroke="#111" stroke-width="0.3" >-log10(pval)</text>
<circle cx="219.20" cy="563.10" r="4.00" fill="#555" />
<text x="233.60" y="566.10" font-size="8.7" text-anchor="start" font-weight="normal" fill="#222" stroke="#222" stroke-width="0.2" >2.6</text>
<circle cx="219.20" cy="580.50" r="5.20" fill="#555" />
<text x="233.60" y="583.50" font-size="8.7" text-anchor="start" font-weight="normal" fill="#222" stroke="#222" stroke-width="0.2" >3.0</text>
<circle cx="219.20" cy="597.60" r="6.40" fill="#555" />
<text x="233.60" y="600.60" font-size="8.7" text-anchor="start" font-weight="normal" fill="#222" stroke="#222" stroke-width="0.2" >3.4</text>
<text x="211.00" y="637.20" font-size="11" text-anchor="start" font-weight="normal" fill="#111" stroke="#111" stroke-width="0.3" >NES</text>
<rect x="211.30" y="643.20" width="16.90" height="86.10" fill="url(#nesg)" stroke="none" stroke-width="1" />
<line x1="211.30" y1="657.50" x2="214.50" y2="657.50" stroke="#fff" stroke-width="0.6" opacity="0.8"/>
<line x1="225.00" y1="657.50" x2="228.20" y2="657.50" stroke="#fff" stroke-width="0.6" opacity="0.8"/>
<text x="233.60" y="660.50" font-size="8.7" text-anchor="start" font-weight="normal" fill="#222" stroke="#222" stroke-width="0.2" >2.25</text>
<line x1="211.30" y1="681.70" x2="214.50" y2="681.70" stroke="#fff" stroke-width="0.6" opacity="0.8"/>
<line x1="225.00" y1="681.70" x2="228.20" y2="681.70" stroke="#fff" stroke-width="0.6" opacity="0.8"/>
<text x="233.60" y="684.70" font-size="8.7" text-anchor="start" font-weight="normal" fill="#222" stroke="#222" stroke-width="0.2" >2.00</text>
<line x1="211.30" y1="705.60" x2="214.50" y2="705.60" stroke="#fff" stroke-width="0.6" opacity="0.8"/>
<line x1="225.00" y1="705.60" x2="228.20" y2="705.60" stroke="#fff" stroke-width="0.6" opacity="0.8"/>
<text x="233.60" y="708.60" font-size="8.7" text-anchor="start" font-weight="normal" fill="#222" stroke="#222" stroke-width="0.2" >1.75</text>
<text x="298.50" y="486.80" font-size="19.3" text-anchor="start" font-weight="bold" fill="#000" stroke="#000" stroke-width="0" >h</text>
<text x="418.20" y="485.40" font-size="13.3" text-anchor="start" font-weight="normal" fill="#000" stroke="#000" stroke-width="0.3" >LN-FOXA2-OE</text>
<line x1="418.30" y1="486.60" x2="506.00" y2="486.60" stroke="#111" stroke-width="1" />
<text transform="translate(392.80,500.40) rotate(-45)" font-size="12.8" text-anchor="end" fill="#000" stroke="#000" stroke-width="0.3" >FOXA2</text>
<text transform="translate(422.05,510.20) rotate(-45)" font-size="12.8" text-anchor="end" fill="#000" stroke="#000" stroke-width="0.3" >JUN</text>
<text transform="translate(500.80,503.40) rotate(-45)" font-size="12.8" text-anchor="end" fill="#000" stroke="#000" stroke-width="0.3" >FOXA2</text>
<text transform="translate(558.55,516.10) rotate(-45)" font-size="12.8" text-anchor="end" fill="#000" stroke="#000" stroke-width="0.3" >JUN</text>
<rect x="334.60" y="539.30" width="9.60" height="52.60" fill="#c00000" stroke="none" stroke-width="1" />
<text transform="translate(329.00,570.30) rotate(-90)" font-size="13.5" text-anchor="middle" fill="#000" stroke="#000" stroke-width="0.3" >AR</text>
<g clip-path="url(#hc00)">
<rect x="348.40" y="538.40" width="37.80" height="54.90" fill="url(#hm00)" stroke="none" stroke-width="1" />
<rect x="348.4" y="538.4" width="37.80" height="54.90" filter="url(#speck)" opacity="0.35" mask="url(#fadeF)"/>
</g>
<rect x="348.40" y="538.40" width="37.80" height="54.90" fill="none" stroke="#999" stroke-width="0.8" />
<g clip-path="url(#hc01)">
<rect x="388.40" y="538.40" width="37.60" height="54.90" fill="url(#hm01)" stroke="none" stroke-width="1" />
<rect x="388.4" y="538.4" width="37.60" height="54.90" filter="url(#speck)" opacity="0.35" mask="url(#fadeJ)"/>
</g>
<rect x="388.40" y="538.40" width="37.60" height="54.90" fill="none" stroke="#999" stroke-width="0.8" />
<rect x="441.50" y="539.00" width="66.10" height="55.80" fill="#fff" stroke="#b8b8b8" stroke-width="0.7" />
<line x1="441.50" y1="539.00" x2="507.60" y2="539.00" stroke="#707070" stroke-width="0.9" />
<line x1="441.50" y1="594.10" x2="507.60" y2="594.10" stroke="#c4c4c4" stroke-width="1.6" />
<line x1="441.50" y1="550.16" x2="442.70" y2="550.16" stroke="#888" stroke-width="0.4" />
<line x1="441.50" y1="561.32" x2="442.70" y2="561.32" stroke="#888" stroke-width="0.4" />
<line x1="441.50" y1="572.48" x2="442.70" y2="572.48" stroke="#888" stroke-width="0.4" />
<line x1="441.50" y1="583.64" x2="442.70" y2="583.64" stroke="#888" stroke-width="0.4" />
<line x1="474.55" y1="594.80" x2="474.55" y2="596.00" stroke="#888" stroke-width="0.4" />
<rect x="513.50" y="538.30" width="66.10" height="55.90" fill="#fff" stroke="#b8b8b8" stroke-width="0.7" />
<line x1="513.50" y1="538.30" x2="579.60" y2="538.30" stroke="#707070" stroke-width="0.9" />
<line x1="513.50" y1="593.50" x2="579.60" y2="593.50" stroke="#c4c4c4" stroke-width="1.6" />
<line x1="513.50" y1="549.48" x2="514.70" y2="549.48" stroke="#888" stroke-width="0.4" />
<line x1="513.50" y1="560.66" x2="514.70" y2="560.66" stroke="#888" stroke-width="0.4" />
<line x1="513.50" y1="571.84" x2="514.70" y2="571.84" stroke="#888" stroke-width="0.4" />
<line x1="513.50" y1="583.02" x2="514.70" y2="583.02" stroke="#888" stroke-width="0.4" />
<line x1="546.55" y1="594.20" x2="546.55" y2="595.40" stroke="#888" stroke-width="0.4" />
<rect x="334.60" y="594.00" width="9.60" height="54.20" fill="#7a7272" stroke="none" stroke-width="1" />
<text transform="translate(329.00,615.00) rotate(-90)" font-size="13.5" text-anchor="middle" fill="#000" stroke="#000" stroke-width="0.3" >SCL</text>
<g clip-path="url(#hc10)">
<rect x="348.40" y="594.60" width="37.80" height="55.20" fill="url(#hm10)" stroke="none" stroke-width="1" />
<rect x="348.4" y="594.6" width="37.80" height="55.20" filter="url(#speck)" opacity="0.35" mask="url(#fadeF)"/>
<path d="M363.30,594.60 L371.30,594.60 L368.70,611.16 L368.40,649.80 L366.20,649.80 L365.90,611.16 Z" fill="url(#hs10)" filter="url(#bl1)"/>
</g>
<rect x="348.40" y="594.60" width="37.80" height="55.20" fill="none" stroke="#999" stroke-width="0.8" />
<g clip-path="url(#hc11)">
<rect x="388.40" y="594.60" width="37.60" height="55.20" fill="url(#hm11)" stroke="none" stroke-width="1" />
<rect x="388.4" y="594.6" width="37.60" height="55.20" filter="url(#speck)" opacity="0.35" mask="url(#fadeJ)"/>
<path d="M400.70,594.60 L413.70,594.60 L408.00,598.46 L406.40,598.46 Z" fill="#ee6060" opacity="0.3" filter="url(#bl1)"/>
</g>
<rect x="388.40" y="594.60" width="37.60" height="55.20" fill="none" stroke="#999" stroke-width="0.8" />
<rect x="441.50" y="597.40" width="66.10" height="55.10" fill="#fff" stroke="#b8b8b8" stroke-width="0.7" />
<line x1="441.50" y1="597.40" x2="507.60" y2="597.40" stroke="#707070" stroke-width="0.9" />
<line x1="441.50" y1="651.80" x2="507.60" y2="651.80" stroke="#c4c4c4" stroke-width="1.6" />
<line x1="441.50" y1="608.42" x2="442.70" y2="608.42" stroke="#888" stroke-width="0.4" />
<line x1="441.50" y1="619.44" x2="442.70" y2="619.44" stroke="#888" stroke-width="0.4" />
<line x1="441.50" y1="630.46" x2="442.70" y2="630.46" stroke="#888" stroke-width="0.4" />
<line x1="441.50" y1="641.48" x2="442.70" y2="641.48" stroke="#888" stroke-width="0.4" />
<line x1="474.55" y1="652.50" x2="474.55" y2="653.70" stroke="#888" stroke-width="0.4" />
<rect x="513.50" y="596.70" width="66.10" height="55.60" fill="#fff" stroke="#b8b8b8" stroke-width="0.7" />
<line x1="513.50" y1="596.70" x2="579.60" y2="596.70" stroke="#707070" stroke-width="0.9" />
<line x1="513.50" y1="651.60" x2="579.60" y2="651.60" stroke="#c4c4c4" stroke-width="1.6" />
<line x1="513.50" y1="607.82" x2="514.70" y2="607.82" stroke="#888" stroke-width="0.4" />
<line x1="513.50" y1="618.94" x2="514.70" y2="618.94" stroke="#888" stroke-width="0.4" />
<line x1="513.50" y1="630.06" x2="514.70" y2="630.06" stroke="#888" stroke-width="0.4" />
<line x1="513.50" y1="641.18" x2="514.70" y2="641.18" stroke="#888" stroke-width="0.4" />
<line x1="546.55" y1="652.30" x2="546.55" y2="653.50" stroke="#888" stroke-width="0.4" />
<rect x="334.60" y="650.70" width="9.60" height="56.70" fill="#ffd966" stroke="none" stroke-width="1" />
<text transform="translate(329.00,677.50) rotate(-90)" font-size="13.5" text-anchor="middle" fill="#000" stroke="#000" stroke-width="0.3" >NE</text>
<g clip-path="url(#hc20)">
<rect x="348.40" y="650.60" width="37.80" height="59.90" fill="url(#hm20)" stroke="none" stroke-width="1" />
<rect x="348.4" y="650.6" width="37.80" height="59.90" filter="url(#speck)" opacity="0.35" mask="url(#fadeF)"/>
<path d="M363.30,650.60 L371.30,650.60 L368.70,668.57 L368.40,710.50 L366.20,710.50 L365.90,668.57 Z" fill="url(#hs20)" filter="url(#bl1)"/>
</g>
<rect x="348.40" y="650.60" width="37.80" height="59.90" fill="none" stroke="#999" stroke-width="0.8" />
<g clip-path="url(#hc21)">
<rect x="388.40" y="650.60" width="37.60" height="59.90" fill="url(#hm21)" stroke="none" stroke-width="1" />
<rect x="388.4" y="650.6" width="37.60" height="59.90" filter="url(#speck)" opacity="0.35" mask="url(#fadeJ)"/>
<path d="M400.70,650.60 L413.70,650.60 L408.00,658.99 L406.40,658.99 Z" fill="#ee6060" opacity="0.6" filter="url(#bl1)"/>
<rect x="406.20" y="658.99" width="2" height="14.97" fill="#ffffff" opacity="0.15" filter="url(#bl05)"/>
</g>
<rect x="388.40" y="650.60" width="37.60" height="59.90" fill="none" stroke="#999" stroke-width="0.8" />
<rect x="441.50" y="656.10" width="66.10" height="56.30" fill="#fff" stroke="#b8b8b8" stroke-width="0.7" />
<line x1="441.50" y1="656.10" x2="507.60" y2="656.10" stroke="#707070" stroke-width="0.9" />
<line x1="441.50" y1="711.70" x2="507.60" y2="711.70" stroke="#c4c4c4" stroke-width="1.6" />
<line x1="441.50" y1="667.36" x2="442.70" y2="667.36" stroke="#888" stroke-width="0.4" />
<line x1="441.50" y1="678.62" x2="442.70" y2="678.62" stroke="#888" stroke-width="0.4" />
<line x1="441.50" y1="689.88" x2="442.70" y2="689.88" stroke="#888" stroke-width="0.4" />
<line x1="441.50" y1="701.14" x2="442.70" y2="701.14" stroke="#888" stroke-width="0.4" />
<line x1="474.55" y1="712.40" x2="474.55" y2="713.60" stroke="#888" stroke-width="0.4" />
<rect x="513.50" y="654.90" width="66.10" height="56.20" fill="#fff" stroke="#b8b8b8" stroke-width="0.7" />
<line x1="513.50" y1="654.90" x2="579.60" y2="654.90" stroke="#707070" stroke-width="0.9" />
<line x1="513.50" y1="710.40" x2="579.60" y2="710.40" stroke="#c4c4c4" stroke-width="1.6" />
<line x1="513.50" y1="666.14" x2="514.70" y2="666.14" stroke="#888" stroke-width="0.4" />
<line x1="513.50" y1="677.38" x2="514.70" y2="677.38" stroke="#888" stroke-width="0.4" />
<line x1="513.50" y1="688.62" x2="514.70" y2="688.62" stroke="#888" stroke-width="0.4" />
<line x1="513.50" y1="699.86" x2="514.70" y2="699.86" stroke="#888" stroke-width="0.4" />
<line x1="546.55" y1="711.10" x2="546.55" y2="712.30" stroke="#888" stroke-width="0.4" />
<rect x="334.60" y="709.50" width="9.60" height="61.90" fill="#a9d18e" stroke="none" stroke-width="1" />
<text transform="translate(329.00,740.40) rotate(-90)" font-size="13.5" text-anchor="middle" fill="#000" stroke="#000" stroke-width="0.3" >WNT</text>
<g clip-path="url(#hc30)">
<rect x="348.40" y="711.80" width="37.80" height="63.70" fill="url(#hm30)" stroke="none" stroke-width="1" />
<rect x="348.4" y="711.8" width="37.80" height="63.70" filter="url(#speck)" opacity="0.35" mask="url(#fadeF)"/>
<path d="M363.30,711.80 L371.30,711.80 L368.70,730.91 L368.40,775.50 L366.20,775.50 L365.90,730.91 Z" fill="url(#hs30)" filter="url(#bl1)"/>
</g>
<rect x="348.40" y="711.80" width="37.80" height="63.70" fill="none" stroke="#999" stroke-width="0.8" />
<g clip-path="url(#hc31)">
<rect x="388.40" y="711.80" width="37.60" height="63.70" fill="url(#hm31)" stroke="none" stroke-width="1" />
<rect x="388.4" y="711.8" width="37.60" height="63.70" filter="url(#speck)" opacity="0.35" mask="url(#fadeJ)"/>
<path d="M400.70,711.80 L413.70,711.80 L408.00,723.27 L406.40,723.27 Z" fill="#ee6060" opacity="0.75" filter="url(#bl1)"/>
<rect x="406.20" y="723.27" width="2" height="15.93" fill="#ffffff" opacity="0.15" filter="url(#bl05)"/>
</g>
<rect x="388.40" y="711.80" width="37.60" height="63.70" fill="none" stroke="#999" stroke-width="0.8" />
<rect x="441.50" y="715.10" width="66.10" height="56.90" fill="#fff" stroke="#b8b8b8" stroke-width="0.7" />
<line x1="441.50" y1="715.10" x2="507.60" y2="715.10" stroke="#707070" stroke-width="0.9" />
<line x1="441.50" y1="771.30" x2="507.60" y2="771.30" stroke="#c4c4c4" stroke-width="1.6" />
<line x1="441.50" y1="726.48" x2="442.70" y2="726.48" stroke="#888" stroke-width="0.4" />
<line x1="441.50" y1="737.86" x2="442.70" y2="737.86" stroke="#888" stroke-width="0.4" />
<line x1="441.50" y1="749.24" x2="442.70" y2="749.24" stroke="#888" stroke-width="0.4" />
<line x1="441.50" y1="760.62" x2="442.70" y2="760.62" stroke="#888" stroke-width="0.4" />
<line x1="474.55" y1="772.00" x2="474.55" y2="773.20" stroke="#888" stroke-width="0.4" />
<rect x="513.50" y="715.50" width="66.10" height="56.10" fill="#fff" stroke="#b8b8b8" stroke-width="0.7" />
<line x1="513.50" y1="715.50" x2="579.60" y2="715.50" stroke="#707070" stroke-width="0.9" />
<line x1="513.50" y1="770.90" x2="579.60" y2="770.90" stroke="#c4c4c4" stroke-width="1.6" />
<line x1="513.50" y1="726.72" x2="514.70" y2="726.72" stroke="#888" stroke-width="0.4" />
<line x1="513.50" y1="737.94" x2="514.70" y2="737.94" stroke="#888" stroke-width="0.4" />
<line x1="513.50" y1="749.16" x2="514.70" y2="749.16" stroke="#888" stroke-width="0.4" />
<line x1="513.50" y1="760.38" x2="514.70" y2="760.38" stroke="#888" stroke-width="0.4" />
<line x1="546.55" y1="771.60" x2="546.55" y2="772.80" stroke="#888" stroke-width="0.4" />
<path d="M441.8,587.7 L442.2,588.2 L442.8,588.1 L443.4,587.7 L444.1,587.8 L444.9,587.7 L445.7,587.8 L446.6,587.8 L447.4,587.3 L448.3,587.3 L449.1,587.8 L449.8,587.6 L450.5,587.9 L451.3,587.4 L452.0,587.8 L452.8,588.1 L453.6,587.8 L454.4,588.4 L455.2,588.5 L455.9,588.0 L456.6,588.1 L457.3,588.5 L457.9,588.9 L458.9,588.6 L459.7,588.6 L460.6,588.7 L461.3,588.5 L462.0,588.8 L462.7,589.1 L463.4,589.5 L464.2,590.0 L464.9,590.9 L465.6,591.9 L466.3,593.1 L467.0,593.7 L467.7,593.8 L468.4,594.1 L469.1,593.3 L469.9,592.6 L470.7,591.4 L471.4,591.0 L472.1,590.2 L472.8,589.2 L473.6,589.1 L474.3,589.4 L475.0,589.6 L475.7,590.1 L476.5,590.1 L477.2,590.9 L478.0,591.4 L478.9,591.9 L479.7,592.8 L480.5,593.5 L481.3,593.7 L482.1,593.3 L482.8,592.8 L483.5,591.7 L484.3,591.2 L485.3,591.0 L485.9,590.6 L486.6,590.2 L487.3,590.3 L488.1,590.3 L488.9,590.2 L489.7,589.8 L490.5,589.8 L491.3,589.7 L492.2,589.8 L493.0,589.5 L493.7,589.3 L494.4,589.3 L495.2,588.9 L495.9,588.8 L496.7,589.2 L497.5,589.3 L498.2,589.0 L499.0,588.8 L499.7,588.6 L500.4,588.7 L501.1,589.0 L501.7,588.8 L502.6,588.5 L503.4,588.7 L504.3,588.1 L505.0,588.3 L505.7,588.5 L506.4,588.2 L506.9,588.0 L507.3,588.0" fill="none" stroke="#e23a3a" stroke-width="0.9" stroke-linejoin="round"/>
<path d="M513.8,579.6 L514.3,579.7 L515.0,579.2 L515.8,579.5 L516.7,580.4 L517.6,580.6 L518.4,580.7 L519.2,580.6 L520.0,581.0 L520.7,581.1 L521.5,581.2 L522.2,580.9 L522.9,581.2 L523.6,581.3 L524.3,581.7 L525.0,582.0 L525.7,582.1 L526.5,582.0 L527.2,582.1 L528.0,582.3 L528.7,582.5 L529.5,583.1 L530.2,584.0 L531.0,584.5 L531.8,585.2 L532.6,586.1 L533.4,586.2 L534.2,586.5 L535.0,586.4 L535.8,586.4 L536.6,586.7 L537.4,586.6 L538.2,587.1 L538.9,587.7 L539.7,587.8 L540.4,587.9 L541.2,588.9 L541.9,589.4 L542.6,589.9 L543.3,590.5 L544.0,591.0 L544.8,591.7 L545.5,592.1 L546.2,593.3 L547.0,593.7 L547.7,593.2 L548.4,593.5 L549.1,593.1 L549.8,592.3 L550.5,591.6 L551.2,590.8 L552.0,590.5 L552.7,589.7 L553.5,589.4 L554.3,588.4 L555.2,588.3 L556.0,587.7 L556.8,586.9 L557.5,586.6 L558.3,586.5 L559.1,586.1 L559.8,585.7 L560.6,585.3 L561.2,585.2 L561.9,585.3 L562.8,584.2 L563.6,583.9 L564.4,582.7 L565.2,582.8 L566.0,582.6 L566.8,583.9 L567.6,584.3 L568.5,584.3 L569.1,584.0 L569.8,583.4 L570.5,582.6 L571.2,581.5 L572.0,580.7 L572.9,580.3 L573.6,580.4 L574.3,579.9 L575.1,579.2 L576.0,579.6 L576.8,579.4 L577.6,579.4 L578.3,578.7 L578.9,579.1 L579.3,578.8" fill="none" stroke="#e23a3a" stroke-width="0.9" stroke-linejoin="round"/>
<path d="M441.8,646.4 L442.2,646.5 L442.8,646.3 L443.4,646.3 L444.1,646.2 L444.9,645.9 L445.7,645.7 L446.6,646.0 L447.4,645.6 L448.3,645.5 L449.1,645.7 L449.9,645.4 L450.6,645.6 L451.3,645.4 L452.2,645.5 L453.0,645.4 L453.8,645.7 L454.5,645.9 L455.2,645.9 L455.9,646.1 L456.6,646.3 L457.2,646.2 L457.9,646.6 L458.7,646.7 L459.4,646.7 L460.2,646.8 L460.9,647.3 L461.6,647.3 L462.3,647.6 L462.9,647.8 L463.5,647.9 L464.5,648.3 L465.3,648.4 L466.0,648.8 L466.7,648.5 L467.4,648.2 L468.1,647.4 L468.8,646.1 L469.5,644.9 L470.2,643.2 L470.9,641.4 L471.7,639.1 L472.3,637.6 L473.3,635.7 L474.3,635.3 L475.0,635.6 L475.7,636.5 L476.5,638.0 L477.3,640.2 L478.2,643.0 L479.0,645.1 L479.8,646.6 L480.6,647.6 L481.5,648.2 L482.1,648.2 L482.8,647.8 L483.6,647.8 L484.3,647.6 L485.0,647.4 L485.7,647.1 L486.3,647.0 L487.0,646.7 L487.7,646.8 L488.5,646.5 L489.2,646.2 L489.9,645.9 L490.6,646.0 L491.4,645.8 L492.2,645.2 L493.1,645.3 L494.0,645.2 L494.7,645.1 L495.4,645.3 L496.2,645.7 L497.0,646.0 L497.8,645.9 L498.7,646.4 L499.5,646.4 L500.3,646.8 L501.0,646.8 L501.7,647.2 L502.5,647.2 L503.4,647.0 L504.2,647.1 L505.0,646.7 L505.7,646.5 L506.3,646.5 L506.9,646.2 L507.3,646.3" fill="none" stroke="#3a3a3a" stroke-width="0.9" stroke-linejoin="round"/>
<path d="M513.8,624.4 L514.2,624.5 L514.7,624.8 L515.3,624.9 L516.0,625.0 L516.7,625.4 L517.5,626.0 L518.3,626.2 L519.1,626.4 L519.9,626.3 L520.7,626.8 L521.5,626.9 L522.3,627.0 L523.0,627.2 L523.6,627.5 L524.5,628.3 L525.3,628.5 L526.1,628.8 L526.9,629.1 L527.6,629.0 L528.3,629.4 L528.9,629.9 L529.6,630.3 L530.2,630.7 L531.1,631.3 L531.9,631.4 L532.6,632.4 L533.3,633.0 L533.9,633.5 L534.5,633.8 L535.5,634.9 L536.4,635.4 L537.2,636.3 L538.1,636.2 L539.0,635.5 L540.0,634.4 L540.7,633.5 L541.5,631.6 L542.2,630.0 L543.0,628.2 L543.7,626.5 L544.4,624.8 L545.2,623.3 L545.9,621.9 L546.6,621.1 L547.6,621.6 L548.4,623.4 L549.2,624.7 L549.9,626.6 L550.7,629.0 L551.5,630.9 L552.3,632.6 L553.2,634.2 L554.1,635.5 L554.9,636.7 L555.8,636.1 L556.6,635.3 L557.5,634.3 L558.2,634.1 L559.0,633.4 L559.9,633.0 L560.8,632.8 L561.5,632.4 L562.2,632.5 L563.0,632.6 L563.8,632.1 L564.5,632.0 L565.2,631.8 L566.1,631.6 L566.8,630.7 L567.5,629.8 L568.5,629.3 L569.2,629.1 L570.0,629.2 L570.8,629.0 L571.7,629.5 L572.5,629.7 L573.3,629.7 L574.0,629.5 L575.0,629.3 L575.8,628.2 L576.5,627.8 L577.2,628.0 L578.5,628.4 L579.3,629.0" fill="none" stroke="#3a3a3a" stroke-width="0.9" stroke-linejoin="round"/>
<path d="M441.8,691.1 L442.3,691.6 L443.1,692.2 L444.0,692.9 L444.7,693.2 L445.5,693.9 L446.3,693.6 L447.0,695.0 L447.9,697.5 L448.8,699.6 L449.6,701.2 L450.6,699.4 L451.5,697.0 L452.3,692.3 L453.0,688.0 L453.8,685.2 L454.6,682.8 L455.6,681.8 L456.5,681.8 L457.2,684.0 L458.0,686.3 L459.0,689.2 L460.0,692.3 L461.0,689.8 L462.0,688.1 L462.7,688.6 L463.5,690.5 L464.2,692.6 L465.1,693.6 L466.0,694.8 L466.7,695.9 L467.7,692.7 L468.5,687.8 L469.3,685.3 L470.0,682.0 L470.5,680.3 L471.0,677.5 L471.9,673.7 L473.0,668.2 L474.0,662.6 L475.0,659.0 L475.7,661.8 L476.5,667.9 L477.2,672.0 L478.0,676.5 L478.7,679.6 L479.6,680.1 L480.5,679.1 L481.3,677.5 L482.0,678.0 L482.7,679.8 L483.5,682.8 L484.1,684.8 L484.9,686.1 L485.7,687.5 L486.4,688.8 L487.3,689.8 L488.2,689.5 L489.0,690.5 L489.9,689.4 L490.7,689.7 L491.5,689.3 L492.3,687.6 L493.0,688.0 L493.7,689.1 L494.5,691.1 L495.4,691.1 L496.5,691.5 L497.3,692.3 L498.1,693.8 L499.0,693.7 L499.9,694.8 L500.8,695.5 L501.7,695.8 L502.5,695.2 L503.2,694.9 L504.0,695.0 L504.8,695.6 L505.8,695.3 L506.7,696.4 L507.3,696.5" fill="none" stroke="#f0a040" stroke-width="0.9" stroke-linejoin="round"/>
<path d="M513.8,695.3 L514.3,695.3 L515.0,695.1 L515.8,695.0 L516.6,694.9 L517.6,695.5 L518.5,695.4 L519.3,695.7 L520.0,695.4 L520.9,695.7 L521.8,695.0 L522.5,695.3 L523.2,695.0 L524.0,694.4 L524.8,694.2 L525.6,693.8 L526.5,692.9 L527.3,692.8 L528.0,693.0 L528.8,692.9 L529.5,694.2 L530.2,695.0 L531.0,695.8 L531.7,695.8 L532.4,696.0 L533.1,697.0 L533.8,697.2 L534.5,697.0 L535.2,696.5 L535.9,696.3 L536.6,696.2 L537.3,695.4 L538.0,695.4 L538.8,694.4 L539.6,693.3 L540.3,692.8 L541.0,691.4 L541.8,689.8 L542.6,687.3 L543.5,684.0 L544.3,681.1 L545.1,677.6 L545.9,674.5 L546.6,672.8 L547.6,672.9 L548.5,676.9 L549.5,682.4 L550.5,687.8 L551.3,690.9 L552.1,692.8 L553.0,695.3 L553.8,696.0 L554.6,696.2 L555.5,697.0 L556.4,696.8 L557.1,696.6 L557.7,696.6 L558.4,695.9 L559.2,695.6 L560.0,695.8 L560.7,695.5 L561.4,694.6 L562.1,695.1 L562.9,694.2 L563.7,694.3 L564.5,694.7 L565.2,694.4 L566.0,694.2 L566.8,694.5 L567.6,694.8 L568.4,694.9 L569.2,696.0 L570.0,695.4 L570.7,695.9 L571.4,696.3 L572.2,696.1 L572.9,696.7 L573.6,696.1 L574.3,696.8 L575.0,696.9 L575.8,696.8 L576.6,697.1 L577.5,696.7 L578.2,697.2 L578.8,697.2 L579.3,697.0" fill="none" stroke="#f0a040" stroke-width="0.9" stroke-linejoin="round"/>
<path d="M441.8,767.5 L442.2,767.4 L442.8,767.7 L443.5,767.4 L444.2,767.7 L445.0,767.6 L445.8,767.5 L446.7,767.7 L447.6,767.5 L448.4,767.7 L449.2,767.6 L450.0,767.6 L450.7,767.8 L451.5,768.0 L452.2,767.7 L453.0,767.7 L453.7,767.9 L454.4,768.1 L455.2,768.0 L455.9,767.9 L456.6,768.2 L457.3,767.7 L458.0,768.2 L458.8,767.9 L459.5,767.9 L460.3,768.0 L461.0,768.2 L461.7,768.5 L462.4,768.2 L463.1,768.5 L463.8,768.5 L464.4,768.4 L465.0,768.4 L465.9,768.1 L466.8,768.0 L467.5,767.9 L468.2,767.9 L468.9,767.2 L469.5,766.4 L470.4,763.9 L471.2,760.3 L472.0,756.9 L472.8,754.7 L473.7,752.1 L474.6,749.8 L475.4,749.0 L476.2,749.6 L477.0,751.5 L477.8,753.8 L478.5,755.9 L479.4,759.8 L480.2,763.3 L481.0,766.5 L481.6,767.8 L482.3,768.1 L483.0,768.5 L484.0,768.5 L484.6,768.8 L485.2,768.8 L485.9,768.7 L486.6,768.7 L487.3,768.3 L488.1,768.3 L489.0,768.1 L490.0,768.0 L490.6,767.9 L491.2,768.1 L491.9,768.2 L492.6,767.9 L493.4,768.0 L494.1,767.7 L494.9,768.0 L495.7,767.9 L496.5,768.1 L497.2,768.0 L498.0,767.7 L498.7,767.8 L499.4,767.9 L500.0,767.6 L500.9,767.7 L501.7,767.6 L502.6,767.5 L503.5,767.4 L504.3,767.7 L505.0,767.4 L505.7,767.4 L506.4,767.4 L506.9,767.6 L507.3,767.4" fill="none" stroke="#435343" stroke-width="0.9" stroke-linejoin="round"/>
<path d="M513.8,751.0 L514.3,751.6 L515.0,751.2 L515.8,751.8 L516.6,751.6 L517.6,751.9 L518.5,752.6 L519.3,752.2 L520.0,752.6 L520.9,752.4 L521.7,752.2 L522.4,752.0 L523.2,751.6 L524.0,752.0 L524.7,751.6 L525.3,751.8 L526.0,751.8 L526.8,752.1 L527.5,752.4 L528.3,753.0 L529.0,752.9 L529.8,753.1 L530.6,753.7 L531.4,754.7 L532.2,754.5 L533.0,755.4 L533.8,755.5 L534.5,755.7 L535.4,755.3 L536.3,755.1 L537.0,754.3 L537.8,753.5 L538.5,752.3 L539.3,749.7 L540.1,746.5 L540.8,743.1 L541.5,740.3 L542.4,734.9 L543.2,729.3 L544.0,725.3 L544.9,721.7 L545.7,719.5 L546.6,718.7 L547.4,719.2 L548.2,721.6 L549.0,725.3 L549.8,729.3 L550.7,735.2 L551.5,739.7 L552.5,745.9 L553.5,750.1 L554.2,752.7 L555.3,753.6 L555.9,753.5 L556.6,753.2 L557.4,753.0 L558.3,753.0 L559.2,752.7 L560.0,752.2 L560.7,752.6 L561.4,752.2 L562.1,752.1 L562.8,751.6 L563.6,751.4 L564.3,751.2 L565.0,751.4 L565.7,751.4 L566.5,751.7 L567.2,751.9 L567.9,752.5 L568.6,752.8 L569.3,752.5 L570.0,752.7 L570.8,752.5 L571.6,752.5 L572.4,752.4 L573.1,751.5 L574.0,751.7 L574.7,751.3 L575.6,751.0 L576.5,751.5 L577.3,751.1 L578.1,751.0 L578.8,751.2 L579.3,751.2" fill="none" stroke="#435343" stroke-width="0.9" stroke-linejoin="round"/>
<line x1="500.50" y1="542.70" x2="503.70" y2="542.70" stroke="#e03030" stroke-width="0.8" />
<text x="504.30" y="543.80" font-size="3" text-anchor="start" font-weight="normal" fill="#555" stroke="#555" stroke-width="0.2" >a</text>
<line x1="572.80" y1="542.00" x2="576.00" y2="542.00" stroke="#e03030" stroke-width="0.8" />
<text x="576.60" y="543.10" font-size="3" text-anchor="start" font-weight="normal" fill="#555" stroke="#555" stroke-width="0.2" >a</text>
<text x="467.80" y="793.30" font-size="10.9" text-anchor="middle" font-weight="normal" fill="#000" stroke="#000" stroke-width="0.2" >ChIP-Seq signals (±2kb) centered at ATAC sites</text>
</svg>
</body></html>
